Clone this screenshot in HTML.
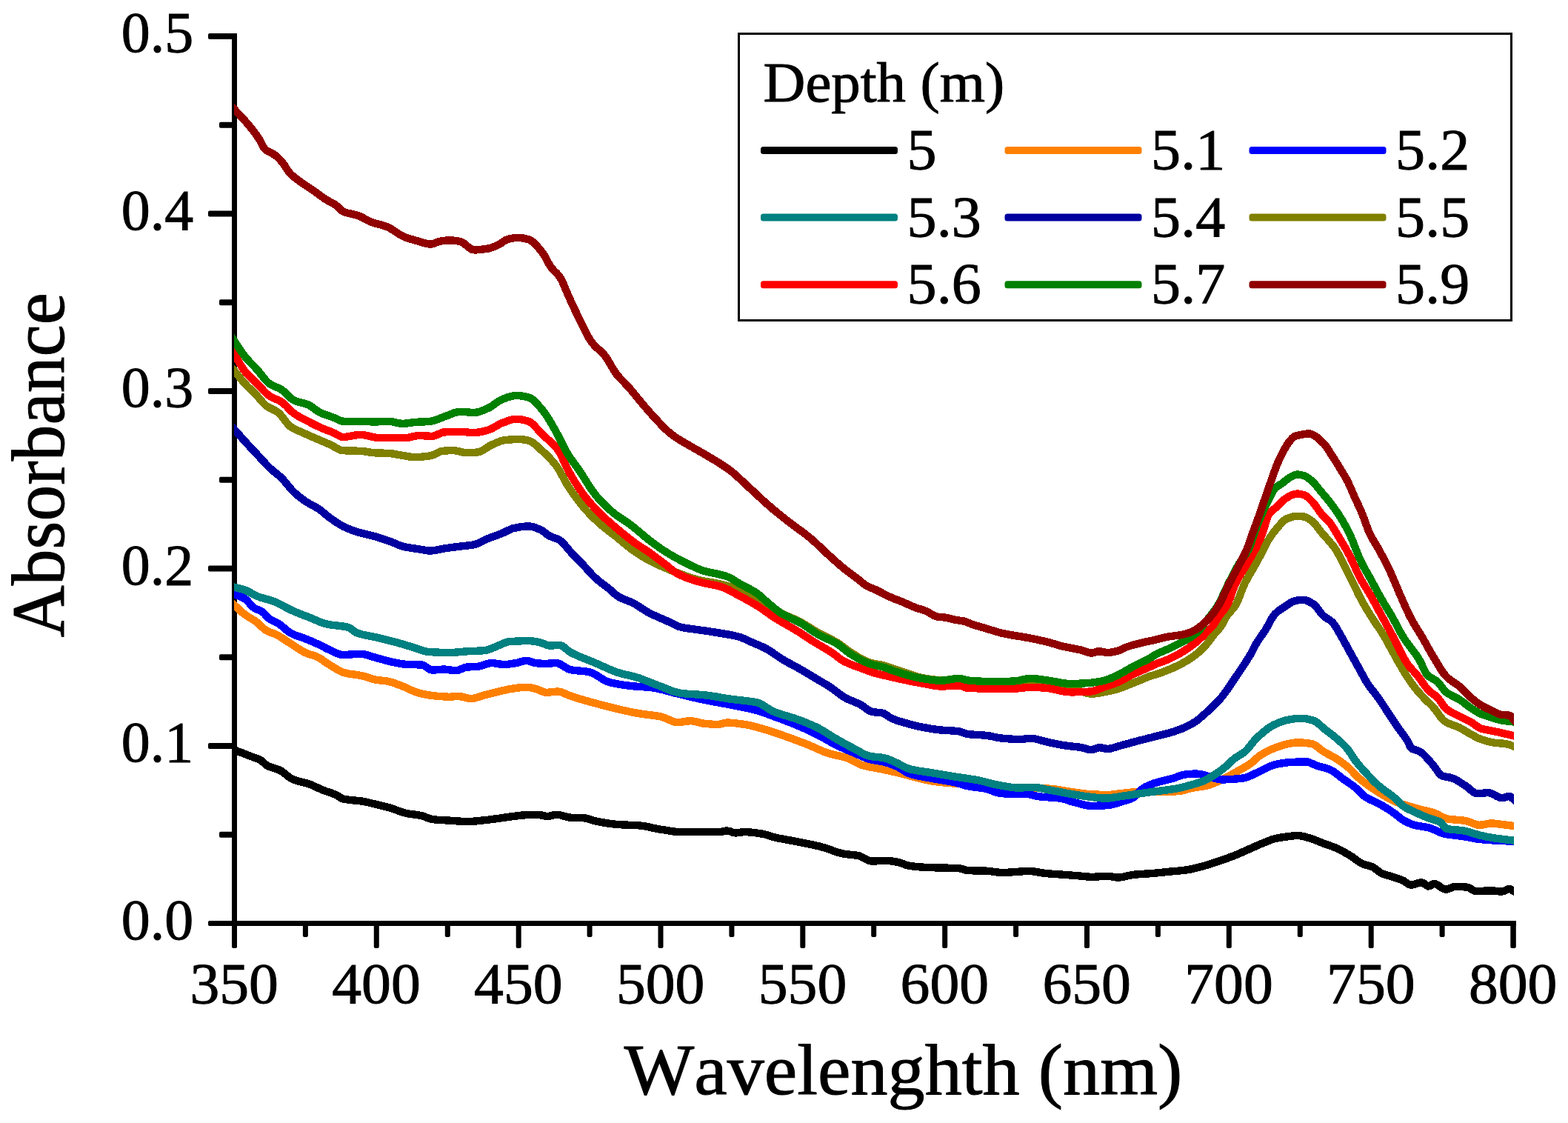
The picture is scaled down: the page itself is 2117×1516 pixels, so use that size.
<!DOCTYPE html>
<html lang="en"><head><meta charset="utf-8"><title>Absorbance vs Wavelength</title>
<style>html,body{margin:0;padding:0;background:#fff}svg{display:block}text{font-family:"Liberation Serif", "DejaVu Serif", serif;fill:#000;stroke:#000;stroke-width:1;font-kerning:none}</style>
</head><body>
<svg width="2117" height="1516" viewBox="0 0 2117 1516">
<rect width="2117" height="1516" fill="#fff"/>
<defs><clipPath id="plot"><rect x="316" y="40" width="1728" height="1215"/></clipPath></defs>
<g fill="#000" shape-rendering="crispEdges">
<rect x="313" y="45" width="7" height="1234"/>
<rect x="282" y="1243" width="1764.5" height="7"/>
</g>
<g fill="#000">
<rect x="281" y="1243" width="34" height="7" rx="2"/>
<rect x="296" y="1122.8" width="20" height="8" rx="2"/>
<rect x="281" y="1003.0" width="35" height="8" rx="2"/>
<rect x="296" y="883.2" width="20" height="8" rx="2"/>
<rect x="281" y="763.5" width="35" height="8" rx="2"/>
<rect x="296" y="643.8" width="20" height="8" rx="2"/>
<rect x="281" y="524.0" width="35" height="8" rx="2"/>
<rect x="296" y="404.2" width="20" height="8" rx="2"/>
<rect x="281" y="284.5" width="35" height="8" rx="2"/>
<rect x="296" y="164.8" width="20" height="8" rx="2"/>
<rect x="281" y="45.0" width="35" height="8" rx="2"/>
<rect x="313.0" y="1246" width="7" height="34" rx="2"/>
<rect x="408.9" y="1246" width="7" height="19" rx="2"/>
<rect x="504.8" y="1246" width="7" height="34" rx="2"/>
<rect x="600.8" y="1246" width="7" height="19" rx="2"/>
<rect x="696.7" y="1246" width="7" height="34" rx="2"/>
<rect x="792.6" y="1246" width="7" height="19" rx="2"/>
<rect x="888.5" y="1246" width="7" height="34" rx="2"/>
<rect x="984.4" y="1246" width="7" height="19" rx="2"/>
<rect x="1080.3" y="1246" width="7" height="34" rx="2"/>
<rect x="1176.2" y="1246" width="7" height="19" rx="2"/>
<rect x="1272.2" y="1246" width="7" height="34" rx="2"/>
<rect x="1368.1" y="1246" width="7" height="19" rx="2"/>
<rect x="1464.0" y="1246" width="7" height="34" rx="2"/>
<rect x="1559.9" y="1246" width="7" height="19" rx="2"/>
<rect x="1655.8" y="1246" width="7" height="34" rx="2"/>
<rect x="1751.8" y="1246" width="7" height="19" rx="2"/>
<rect x="1847.7" y="1246" width="7" height="34" rx="2"/>
<rect x="1943.6" y="1246" width="7" height="19" rx="2"/>
<rect x="2039.3" y="1243" width="7.5" height="37" rx="2"/>
</g>
<g clip-path="url(#plot)" fill="none" stroke-width="10.4" stroke-linejoin="round" stroke-linecap="butt" shape-rendering="crispEdges">
<path stroke="#000000" d="M308.1 1009.1 L311.1 1010.3 L314.1 1011.5 L317.1 1012.6 L320.1 1013.8 L323.1 1015.0 L326.1 1016.1 L329.1 1017.3 L332.1 1018.5 L335.1 1019.7 L338.1 1020.8 L341.1 1021.9 L344.1 1022.9 L347.1 1024.1 L350.1 1025.4 L353.1 1027.1 L356.1 1029.7 L359.1 1032.4 L362.1 1034.3 L365.1 1035.5 L368.1 1036.5 L371.1 1037.4 L374.1 1038.3 L377.1 1039.5 L380.1 1041.1 L383.1 1043.3 L386.1 1045.7 L389.1 1048.2 L392.1 1050.4 L395.1 1051.9 L398.1 1053.1 L401.1 1054.0 L404.1 1054.9 L407.1 1055.6 L410.1 1056.4 L413.1 1057.2 L416.1 1058.1 L419.1 1059.1 L422.1 1060.3 L425.1 1061.7 L428.1 1063.1 L431.1 1064.5 L434.1 1065.8 L437.1 1067.1 L440.1 1068.2 L443.1 1069.2 L446.1 1070.1 L449.1 1071.2 L452.1 1072.3 L455.1 1073.8 L458.1 1075.8 L461.1 1077.7 L464.1 1078.6 L467.1 1079.2 L470.1 1079.6 L473.1 1080.0 L476.1 1080.3 L479.1 1080.5 L482.1 1080.8 L485.1 1081.1 L488.1 1081.5 L491.1 1082.1 L494.1 1082.7 L497.1 1083.3 L500.1 1084.0 L503.1 1084.8 L506.1 1085.5 L509.1 1086.2 L512.1 1086.9 L515.1 1087.6 L518.1 1088.4 L521.1 1089.1 L524.1 1089.9 L527.1 1090.8 L530.1 1091.7 L533.1 1092.8 L536.1 1093.9 L539.1 1095.0 L542.1 1096.0 L545.1 1097.0 L548.1 1097.8 L551.1 1098.4 L554.1 1098.9 L557.1 1099.3 L560.1 1099.7 L563.1 1100.1 L566.1 1100.6 L569.1 1101.2 L572.1 1102.1 L575.1 1103.3 L578.1 1104.5 L581.1 1105.5 L584.1 1106.1 L587.1 1106.4 L590.1 1106.7 L593.1 1106.9 L596.1 1107.1 L599.1 1107.2 L602.1 1107.4 L605.1 1107.5 L608.1 1107.7 L611.1 1107.9 L614.1 1108.2 L617.1 1108.4 L620.1 1108.6 L623.1 1108.8 L626.1 1109.0 L629.1 1109.1 L632.1 1109.1 L635.1 1109.0 L638.1 1108.8 L641.1 1108.6 L644.1 1108.3 L647.1 1108.0 L650.1 1107.6 L653.1 1107.3 L656.1 1107.0 L659.1 1106.7 L662.1 1106.3 L665.1 1105.9 L668.1 1105.5 L671.1 1105.1 L674.1 1104.7 L677.1 1104.3 L680.1 1103.8 L683.1 1103.4 L686.1 1102.9 L689.1 1102.5 L692.1 1102.2 L695.1 1101.8 L698.1 1101.4 L701.1 1101.0 L704.1 1100.6 L707.1 1100.4 L710.1 1100.2 L713.1 1100.1 L716.1 1100.1 L719.1 1100.1 L722.1 1100.1 L725.1 1100.1 L728.1 1100.1 L731.1 1100.5 L734.1 1101.2 L737.1 1101.8 L740.1 1102.0 L743.1 1101.4 L746.1 1100.6 L749.1 1099.8 L752.1 1099.7 L755.1 1100.0 L758.1 1100.8 L761.1 1101.6 L764.1 1102.5 L767.1 1103.3 L770.1 1103.7 L773.1 1103.8 L776.1 1103.9 L779.1 1104.0 L782.1 1104.0 L785.1 1104.2 L788.1 1104.3 L791.1 1104.7 L794.1 1105.4 L797.1 1106.3 L800.1 1107.3 L803.1 1108.2 L806.1 1108.9 L809.1 1109.5 L812.1 1110.0 L815.1 1110.5 L818.1 1111.0 L821.1 1111.5 L824.1 1111.9 L827.1 1112.3 L830.1 1112.6 L833.1 1112.9 L836.1 1113.1 L839.1 1113.3 L842.1 1113.4 L845.1 1113.6 L848.1 1113.7 L851.1 1113.8 L854.1 1113.9 L857.1 1114.1 L860.1 1114.2 L863.1 1114.4 L866.1 1114.7 L869.1 1115.1 L872.1 1115.7 L875.1 1116.3 L878.1 1116.9 L881.1 1117.6 L884.1 1118.2 L887.1 1118.8 L890.1 1119.4 L893.1 1119.9 L896.1 1120.3 L899.1 1120.8 L902.1 1121.3 L905.1 1121.8 L908.1 1122.3 L911.1 1122.6 L914.1 1122.9 L917.1 1123.1 L920.1 1123.2 L923.1 1123.2 L926.1 1123.2 L929.1 1123.2 L932.1 1123.2 L935.1 1123.2 L938.1 1123.2 L941.1 1123.2 L944.1 1123.2 L947.1 1123.2 L950.1 1123.2 L953.1 1123.2 L956.1 1123.2 L959.1 1123.2 L962.1 1123.2 L965.1 1123.2 L968.1 1123.2 L971.1 1123.1 L974.1 1122.7 L977.1 1122.1 L980.1 1121.6 L983.1 1121.7 L986.1 1122.5 L989.1 1123.6 L992.1 1124.3 L995.1 1124.3 L998.1 1123.9 L1001.1 1123.5 L1004.1 1123.2 L1007.1 1123.2 L1010.1 1123.3 L1013.1 1123.5 L1016.1 1123.8 L1019.1 1124.2 L1022.1 1124.6 L1025.1 1125.0 L1028.1 1125.5 L1031.1 1126.0 L1034.1 1126.8 L1037.1 1127.8 L1040.1 1128.8 L1043.1 1129.7 L1046.1 1130.5 L1049.1 1131.1 L1052.1 1131.8 L1055.1 1132.3 L1058.1 1132.9 L1061.1 1133.4 L1064.1 1134.0 L1067.1 1134.5 L1070.1 1135.1 L1073.1 1135.6 L1076.1 1136.2 L1079.1 1136.8 L1082.1 1137.4 L1085.1 1138.0 L1088.1 1138.6 L1091.1 1139.2 L1094.1 1139.8 L1097.1 1140.5 L1100.1 1141.1 L1103.1 1141.8 L1106.1 1142.5 L1109.1 1143.3 L1112.1 1144.1 L1115.1 1145.1 L1118.1 1146.1 L1121.1 1147.1 L1124.1 1148.2 L1127.1 1149.3 L1130.1 1150.3 L1133.1 1151.2 L1136.1 1152.0 L1139.1 1152.6 L1142.1 1153.1 L1145.1 1153.4 L1148.1 1153.7 L1151.1 1154.0 L1154.1 1154.4 L1157.1 1154.8 L1160.1 1155.4 L1163.1 1156.6 L1166.1 1158.2 L1169.1 1159.9 L1172.1 1161.3 L1175.1 1162.3 L1178.1 1162.6 L1181.1 1162.5 L1184.1 1162.3 L1187.1 1162.1 L1190.1 1161.8 L1193.1 1161.7 L1196.1 1161.7 L1199.1 1161.9 L1202.1 1162.3 L1205.1 1162.7 L1208.1 1163.2 L1211.1 1163.7 L1214.1 1164.3 L1217.1 1165.2 L1220.1 1166.4 L1223.1 1167.6 L1226.1 1168.5 L1229.1 1169.1 L1232.1 1169.4 L1235.1 1169.7 L1238.1 1170.0 L1241.1 1170.3 L1244.1 1170.5 L1247.1 1170.7 L1250.1 1170.8 L1253.1 1171.0 L1256.1 1171.1 L1259.1 1171.2 L1262.1 1171.3 L1265.1 1171.4 L1268.1 1171.5 L1271.1 1171.5 L1274.1 1171.6 L1277.1 1171.6 L1280.1 1171.7 L1283.1 1171.7 L1286.1 1171.8 L1289.1 1171.8 L1292.1 1171.9 L1295.1 1172.1 L1298.1 1172.8 L1301.1 1173.8 L1304.1 1174.8 L1307.1 1175.1 L1310.1 1175.2 L1313.1 1175.3 L1316.1 1175.3 L1319.1 1175.4 L1322.1 1175.4 L1325.1 1175.5 L1328.1 1175.5 L1331.1 1175.6 L1334.1 1175.9 L1337.1 1176.2 L1340.1 1176.6 L1343.1 1177.0 L1346.1 1177.4 L1349.1 1177.7 L1352.1 1177.9 L1355.1 1177.9 L1358.1 1177.9 L1361.1 1177.7 L1364.1 1177.5 L1367.1 1177.3 L1370.1 1177.1 L1373.1 1176.9 L1376.1 1176.6 L1379.1 1176.4 L1382.1 1176.2 L1385.1 1176.1 L1388.1 1176.1 L1391.1 1176.1 L1394.1 1176.3 L1397.1 1176.7 L1400.1 1177.2 L1403.1 1177.7 L1406.1 1178.2 L1409.1 1178.7 L1412.1 1179.1 L1415.1 1179.3 L1418.1 1179.6 L1421.1 1179.8 L1424.1 1180.0 L1427.1 1180.2 L1430.1 1180.4 L1433.1 1180.6 L1436.1 1180.8 L1439.1 1181.0 L1442.1 1181.2 L1445.1 1181.5 L1448.1 1181.7 L1451.1 1181.9 L1454.1 1182.2 L1457.1 1182.4 L1460.1 1182.7 L1463.1 1183.0 L1466.1 1183.3 L1469.1 1183.6 L1472.1 1183.8 L1475.1 1183.8 L1478.1 1183.7 L1481.1 1183.5 L1484.1 1183.3 L1487.1 1183.1 L1490.1 1182.8 L1493.1 1182.7 L1496.1 1182.7 L1499.1 1183.0 L1502.1 1183.6 L1505.1 1184.1 L1508.1 1184.5 L1511.1 1184.5 L1514.1 1184.2 L1517.1 1183.6 L1520.1 1182.9 L1523.1 1182.2 L1526.1 1181.5 L1529.1 1181.0 L1532.1 1180.6 L1535.1 1180.4 L1538.1 1180.2 L1541.1 1180.0 L1544.1 1179.8 L1547.1 1179.6 L1550.1 1179.4 L1553.1 1179.2 L1556.1 1179.0 L1559.1 1178.7 L1562.1 1178.4 L1565.1 1178.1 L1568.1 1177.8 L1571.1 1177.5 L1574.1 1177.2 L1577.1 1176.8 L1580.1 1176.5 L1583.1 1176.3 L1586.1 1176.0 L1589.1 1175.8 L1592.1 1175.5 L1595.1 1175.2 L1598.1 1174.8 L1601.1 1174.5 L1604.1 1174.0 L1607.1 1173.5 L1610.1 1172.8 L1613.1 1172.1 L1616.1 1171.4 L1619.1 1170.6 L1622.1 1169.8 L1625.1 1169.0 L1628.1 1168.2 L1631.1 1167.3 L1634.1 1166.3 L1637.1 1165.4 L1640.1 1164.4 L1643.1 1163.3 L1646.1 1162.3 L1649.1 1161.3 L1652.1 1160.3 L1655.1 1159.2 L1658.1 1158.2 L1661.1 1157.1 L1664.1 1155.9 L1667.1 1154.7 L1670.1 1153.5 L1673.1 1152.2 L1676.1 1150.9 L1679.1 1149.6 L1682.1 1148.3 L1685.1 1146.9 L1688.1 1145.6 L1691.1 1144.3 L1694.1 1142.9 L1697.1 1141.6 L1700.1 1140.3 L1703.1 1139.0 L1706.1 1137.7 L1709.1 1136.5 L1712.1 1135.3 L1715.1 1134.1 L1718.1 1133.0 L1721.1 1132.2 L1724.1 1131.6 L1727.1 1131.0 L1730.1 1130.5 L1733.1 1130.1 L1736.1 1129.6 L1739.1 1129.3 L1742.1 1128.9 L1745.1 1128.5 L1748.1 1128.2 L1751.1 1128.0 L1754.1 1128.1 L1757.1 1128.6 L1760.1 1129.2 L1763.1 1130.1 L1766.1 1130.9 L1769.1 1131.8 L1772.1 1132.7 L1775.1 1133.8 L1778.1 1135.0 L1781.1 1136.2 L1784.1 1137.5 L1787.1 1138.6 L1790.1 1139.7 L1793.1 1140.8 L1796.1 1141.8 L1799.1 1142.9 L1802.1 1144.1 L1805.1 1145.3 L1808.1 1146.7 L1811.1 1148.2 L1814.1 1149.9 L1817.1 1151.6 L1820.1 1153.4 L1823.1 1155.2 L1826.1 1157.1 L1829.1 1159.2 L1832.1 1161.5 L1835.1 1163.6 L1838.1 1165.3 L1841.1 1166.6 L1844.1 1167.6 L1847.1 1168.4 L1850.1 1169.3 L1853.1 1170.4 L1856.1 1172.2 L1859.1 1174.6 L1862.1 1177.0 L1865.1 1178.8 L1868.1 1180.0 L1871.1 1181.0 L1874.1 1181.9 L1877.1 1182.8 L1880.1 1183.8 L1883.1 1184.7 L1886.1 1185.7 L1889.1 1186.6 L1892.1 1187.7 L1895.1 1189.1 L1898.1 1191.2 L1901.1 1193.2 L1904.1 1194.5 L1907.1 1194.4 L1910.1 1193.7 L1913.1 1192.7 L1916.1 1191.7 L1919.1 1191.3 L1922.1 1192.4 L1925.1 1194.7 L1928.1 1196.4 L1931.1 1195.6 L1934.1 1193.5 L1937.1 1193.1 L1940.1 1194.2 L1943.1 1196.1 L1946.1 1198.2 L1949.1 1199.9 L1952.1 1200.7 L1955.1 1200.2 L1958.1 1199.0 L1961.1 1197.6 L1964.1 1197.0 L1967.1 1197.0 L1970.1 1197.1 L1973.1 1197.2 L1976.1 1197.3 L1979.1 1197.5 L1982.1 1197.9 L1985.1 1199.5 L1988.1 1201.4 L1991.1 1202.9 L1994.1 1203.1 L1997.1 1203.0 L2000.1 1202.9 L2003.1 1202.7 L2006.1 1202.6 L2009.1 1202.5 L2012.1 1202.4 L2015.1 1202.4 L2018.1 1202.6 L2021.1 1203.0 L2024.1 1203.4 L2027.1 1203.6 L2030.1 1203.1 L2033.1 1201.6 L2036.1 1200.2 L2039.1 1200.4 L2042.1 1202.0 L2045.1 1203.6 L2048.1 1205.0 L2051.1 1206.4"/>
<path stroke="#FF8000" d="M308.1 809.6 L311.1 812.2 L314.1 814.9 L317.1 817.6 L320.1 820.3 L323.1 823.1 L326.1 825.9 L329.1 828.4 L332.1 830.7 L335.1 832.6 L338.1 834.4 L341.1 836.2 L344.1 838.1 L347.1 840.2 L350.1 842.8 L353.1 845.8 L356.1 848.7 L359.1 850.9 L362.1 852.4 L365.1 853.6 L368.1 854.7 L371.1 855.9 L374.1 857.3 L377.1 858.9 L380.1 860.8 L383.1 862.7 L386.1 864.7 L389.1 866.7 L392.1 868.6 L395.1 870.5 L398.1 872.5 L401.1 874.5 L404.1 876.5 L407.1 878.4 L410.1 880.1 L413.1 881.5 L416.1 882.6 L419.1 883.6 L422.1 884.4 L425.1 885.4 L428.1 886.6 L431.1 888.2 L434.1 890.1 L437.1 892.3 L440.1 894.4 L443.1 896.4 L446.1 898.2 L449.1 900.0 L452.1 901.9 L455.1 903.7 L458.1 905.4 L461.1 906.8 L464.1 908.0 L467.1 908.7 L470.1 909.4 L473.1 909.9 L476.1 910.3 L479.1 910.7 L482.1 911.1 L485.1 911.6 L488.1 912.2 L491.1 912.9 L494.1 913.7 L497.1 914.7 L500.1 915.7 L503.1 916.7 L506.1 917.4 L509.1 918.0 L512.1 918.3 L515.1 918.6 L518.1 918.9 L521.1 919.3 L524.1 919.8 L527.1 920.6 L530.1 921.5 L533.1 922.5 L536.1 923.6 L539.1 924.7 L542.1 925.8 L545.1 927.0 L548.1 928.3 L551.1 929.8 L554.1 931.2 L557.1 932.5 L560.1 933.8 L563.1 934.8 L566.1 935.7 L569.1 936.4 L572.1 937.1 L575.1 937.7 L578.1 938.3 L581.1 938.7 L584.1 939.1 L587.1 939.4 L590.1 939.7 L593.1 940.0 L596.1 940.2 L599.1 940.4 L602.1 940.6 L605.1 940.7 L608.1 940.7 L611.1 940.5 L614.1 940.2 L617.1 940.0 L620.1 940.0 L623.1 940.5 L626.1 941.2 L629.1 942.0 L632.1 942.7 L635.1 943.0 L638.1 942.9 L641.1 942.3 L644.1 941.5 L647.1 940.5 L650.1 939.6 L653.1 938.6 L656.1 937.9 L659.1 937.1 L662.1 936.3 L665.1 935.6 L668.1 934.8 L671.1 934.1 L674.1 933.4 L677.1 932.7 L680.1 932.0 L683.1 931.3 L686.1 930.6 L689.1 930.0 L692.1 929.6 L695.1 929.2 L698.1 928.7 L701.1 928.4 L704.1 928.0 L707.1 927.8 L710.1 927.7 L713.1 927.8 L716.1 928.2 L719.1 928.9 L722.1 929.7 L725.1 930.5 L728.1 931.6 L731.1 933.0 L734.1 934.3 L737.1 934.8 L740.1 934.7 L743.1 934.4 L746.1 934.1 L749.1 933.8 L752.1 933.6 L755.1 933.7 L758.1 934.4 L761.1 935.6 L764.1 937.0 L767.1 938.4 L770.1 939.5 L773.1 940.5 L776.1 941.4 L779.1 942.4 L782.1 943.3 L785.1 944.2 L788.1 945.1 L791.1 945.9 L794.1 946.8 L797.1 947.6 L800.1 948.4 L803.1 949.2 L806.1 950.0 L809.1 950.8 L812.1 951.6 L815.1 952.4 L818.1 953.1 L821.1 953.9 L824.1 954.7 L827.1 955.4 L830.1 956.2 L833.1 956.9 L836.1 957.6 L839.1 958.3 L842.1 959.0 L845.1 959.7 L848.1 960.3 L851.1 961.0 L854.1 961.6 L857.1 962.2 L860.1 962.7 L863.1 963.2 L866.1 963.7 L869.1 964.2 L872.1 964.5 L875.1 964.9 L878.1 965.3 L881.1 965.6 L884.1 966.0 L887.1 966.5 L890.1 967.0 L893.1 967.6 L896.1 968.6 L899.1 969.8 L902.1 971.1 L905.1 972.5 L908.1 973.7 L911.1 974.6 L914.1 975.1 L917.1 975.0 L920.1 974.7 L923.1 974.3 L926.1 973.8 L929.1 973.4 L932.1 973.2 L935.1 973.4 L938.1 974.0 L941.1 974.7 L944.1 975.5 L947.1 976.2 L950.1 976.7 L953.1 977.0 L956.1 977.2 L959.1 977.5 L962.1 977.7 L965.1 977.8 L968.1 977.9 L971.1 977.8 L974.1 977.2 L977.1 976.3 L980.1 975.7 L983.1 975.6 L986.1 975.7 L989.1 975.9 L992.1 976.2 L995.1 976.6 L998.1 976.9 L1001.1 977.4 L1004.1 977.8 L1007.1 978.2 L1010.1 978.8 L1013.1 979.4 L1016.1 980.1 L1019.1 980.9 L1022.1 981.7 L1025.1 982.6 L1028.1 983.5 L1031.1 984.3 L1034.1 985.2 L1037.1 986.1 L1040.1 987.0 L1043.1 988.0 L1046.1 989.0 L1049.1 990.0 L1052.1 991.1 L1055.1 992.1 L1058.1 993.2 L1061.1 994.2 L1064.1 995.3 L1067.1 996.4 L1070.1 997.5 L1073.1 998.6 L1076.1 999.7 L1079.1 1000.8 L1082.1 1002.0 L1085.1 1003.1 L1088.1 1004.3 L1091.1 1005.5 L1094.1 1006.7 L1097.1 1008.1 L1100.1 1009.4 L1103.1 1010.8 L1106.1 1012.1 L1109.1 1013.4 L1112.1 1014.6 L1115.1 1015.8 L1118.1 1016.8 L1121.1 1017.7 L1124.1 1018.4 L1127.1 1019.1 L1130.1 1019.8 L1133.1 1020.4 L1136.1 1021.1 L1139.1 1021.9 L1142.1 1022.8 L1145.1 1023.9 L1148.1 1025.3 L1151.1 1026.8 L1154.1 1028.4 L1157.1 1029.9 L1160.1 1031.3 L1163.1 1032.6 L1166.1 1033.5 L1169.1 1034.3 L1172.1 1035.0 L1175.1 1035.6 L1178.1 1036.1 L1181.1 1036.6 L1184.1 1037.2 L1187.1 1037.7 L1190.1 1038.3 L1193.1 1039.0 L1196.1 1039.6 L1199.1 1040.3 L1202.1 1041.0 L1205.1 1041.6 L1208.1 1042.3 L1211.1 1043.0 L1214.1 1043.7 L1217.1 1044.4 L1220.1 1045.2 L1223.1 1046.0 L1226.1 1046.8 L1229.1 1047.6 L1232.1 1048.4 L1235.1 1049.2 L1238.1 1050.0 L1241.1 1050.7 L1244.1 1051.5 L1247.1 1052.2 L1250.1 1052.8 L1253.1 1053.5 L1256.1 1054.0 L1259.1 1054.5 L1262.1 1055.0 L1265.1 1055.4 L1268.1 1055.7 L1271.1 1056.1 L1274.1 1056.4 L1277.1 1056.6 L1280.1 1056.9 L1283.1 1057.1 L1286.1 1057.4 L1289.1 1057.6 L1292.1 1057.9 L1295.1 1058.1 L1298.1 1058.4 L1301.1 1058.6 L1304.1 1058.9 L1307.1 1059.1 L1310.1 1059.3 L1313.1 1059.6 L1316.1 1059.8 L1319.1 1060.0 L1322.1 1060.3 L1325.1 1060.5 L1328.1 1060.7 L1331.1 1060.9 L1334.1 1061.2 L1337.1 1061.4 L1340.1 1061.6 L1343.1 1061.8 L1346.1 1062.0 L1349.1 1062.2 L1352.1 1062.4 L1355.1 1062.6 L1358.1 1062.8 L1361.1 1063.0 L1364.1 1063.1 L1367.1 1063.3 L1370.1 1063.4 L1373.1 1063.5 L1376.1 1063.5 L1379.1 1063.5 L1382.1 1063.5 L1385.1 1063.5 L1388.1 1063.5 L1391.1 1063.5 L1394.1 1063.5 L1397.1 1063.5 L1400.1 1063.6 L1403.1 1063.7 L1406.1 1063.9 L1409.1 1064.1 L1412.1 1064.3 L1415.1 1064.6 L1418.1 1064.8 L1421.1 1065.1 L1424.1 1065.4 L1427.1 1065.7 L1430.1 1066.2 L1433.1 1066.8 L1436.1 1067.3 L1439.1 1067.9 L1442.1 1068.4 L1445.1 1068.8 L1448.1 1069.3 L1451.1 1069.7 L1454.1 1070.1 L1457.1 1070.5 L1460.1 1070.9 L1463.1 1071.3 L1466.1 1071.6 L1469.1 1071.9 L1472.1 1072.1 L1475.1 1072.3 L1478.1 1072.4 L1481.1 1072.6 L1484.1 1072.7 L1487.1 1072.8 L1490.1 1072.9 L1493.1 1072.9 L1496.1 1072.9 L1499.1 1072.8 L1502.1 1072.5 L1505.1 1072.1 L1508.1 1071.7 L1511.1 1071.4 L1514.1 1071.0 L1517.1 1070.7 L1520.1 1070.3 L1523.1 1070.0 L1526.1 1069.7 L1529.1 1069.5 L1532.1 1069.4 L1535.1 1069.3 L1538.1 1069.2 L1541.1 1069.2 L1544.1 1069.2 L1547.1 1069.1 L1550.1 1069.1 L1553.1 1069.1 L1556.1 1069.0 L1559.1 1069.0 L1562.1 1068.9 L1565.1 1068.9 L1568.1 1068.8 L1571.1 1068.8 L1574.1 1068.7 L1577.1 1068.6 L1580.1 1068.6 L1583.1 1068.5 L1586.1 1068.4 L1589.1 1068.2 L1592.1 1068.0 L1595.1 1067.5 L1598.1 1066.8 L1601.1 1066.0 L1604.1 1065.2 L1607.1 1064.4 L1610.1 1063.7 L1613.1 1063.1 L1616.1 1062.7 L1619.1 1062.2 L1622.1 1061.8 L1625.1 1061.4 L1628.1 1060.8 L1631.1 1060.1 L1634.1 1059.2 L1637.1 1058.1 L1640.1 1056.8 L1643.1 1055.5 L1646.1 1054.1 L1649.1 1052.7 L1652.1 1051.3 L1655.1 1049.8 L1658.1 1048.2 L1661.1 1046.6 L1664.1 1044.9 L1667.1 1043.2 L1670.1 1041.5 L1673.1 1039.8 L1676.1 1038.1 L1679.1 1036.5 L1682.1 1034.8 L1685.1 1033.0 L1688.1 1031.0 L1691.1 1028.7 L1694.1 1026.0 L1697.1 1023.2 L1700.1 1020.7 L1703.1 1018.7 L1706.1 1016.9 L1709.1 1015.3 L1712.1 1013.8 L1715.1 1012.3 L1718.1 1011.0 L1721.1 1009.8 L1724.1 1008.7 L1727.1 1007.6 L1730.1 1006.6 L1733.1 1005.6 L1736.1 1004.8 L1739.1 1004.1 L1742.1 1003.6 L1745.1 1003.0 L1748.1 1002.6 L1751.1 1002.3 L1754.1 1002.4 L1757.1 1002.5 L1760.1 1002.7 L1763.1 1003.0 L1766.1 1003.4 L1769.1 1003.8 L1772.1 1004.4 L1775.1 1005.8 L1778.1 1007.8 L1781.1 1010.2 L1784.1 1012.6 L1787.1 1014.6 L1790.1 1016.4 L1793.1 1018.0 L1796.1 1019.6 L1799.1 1021.2 L1802.1 1022.9 L1805.1 1024.7 L1808.1 1026.7 L1811.1 1028.7 L1814.1 1031.0 L1817.1 1033.3 L1820.1 1035.8 L1823.1 1038.6 L1826.1 1041.7 L1829.1 1044.9 L1832.1 1048.0 L1835.1 1050.7 L1838.1 1053.2 L1841.1 1055.6 L1844.1 1057.8 L1847.1 1060.0 L1850.1 1062.1 L1853.1 1064.1 L1856.1 1066.2 L1859.1 1068.1 L1862.1 1070.1 L1865.1 1071.9 L1868.1 1073.7 L1871.1 1075.5 L1874.1 1077.1 L1877.1 1078.7 L1880.1 1080.3 L1883.1 1081.7 L1886.1 1083.0 L1889.1 1084.2 L1892.1 1085.2 L1895.1 1086.2 L1898.1 1087.1 L1901.1 1088.0 L1904.1 1088.9 L1907.1 1089.8 L1910.1 1090.7 L1913.1 1091.5 L1916.1 1092.3 L1919.1 1093.1 L1922.1 1093.8 L1925.1 1094.5 L1928.1 1095.2 L1931.1 1095.9 L1934.1 1096.7 L1937.1 1097.7 L1940.1 1099.0 L1943.1 1100.6 L1946.1 1102.2 L1949.1 1103.7 L1952.1 1104.9 L1955.1 1105.6 L1958.1 1106.0 L1961.1 1106.3 L1964.1 1106.6 L1967.1 1106.8 L1970.1 1107.0 L1973.1 1107.3 L1976.1 1107.6 L1979.1 1108.0 L1982.1 1108.9 L1985.1 1110.0 L1988.1 1111.3 L1991.1 1112.5 L1994.1 1113.4 L1997.1 1113.8 L2000.1 1113.6 L2003.1 1113.2 L2006.1 1112.5 L2009.1 1111.9 L2012.1 1111.5 L2015.1 1111.5 L2018.1 1111.7 L2021.1 1112.0 L2024.1 1112.5 L2027.1 1112.9 L2030.1 1113.3 L2033.1 1113.7 L2036.1 1114.0 L2039.1 1114.4 L2042.1 1114.8 L2045.1 1115.1 L2048.1 1115.5 L2051.1 1115.9"/>
<path stroke="#0000FF" d="M308.1 798.6 L311.1 799.9 L314.1 801.2 L317.1 802.5 L320.1 803.6 L323.1 804.8 L326.1 806.0 L329.1 807.5 L332.1 809.4 L335.1 812.4 L338.1 815.9 L341.1 819.1 L344.1 821.2 L347.1 822.6 L350.1 823.9 L353.1 825.3 L356.1 827.6 L359.1 830.9 L362.1 834.2 L365.1 836.4 L368.1 837.9 L371.1 839.2 L374.1 840.6 L377.1 842.5 L380.1 844.8 L383.1 847.4 L386.1 850.1 L389.1 852.5 L392.1 854.4 L395.1 855.9 L398.1 857.2 L401.1 858.3 L404.1 859.4 L407.1 860.4 L410.1 861.5 L413.1 862.6 L416.1 863.9 L419.1 865.1 L422.1 866.4 L425.1 867.7 L428.1 869.1 L431.1 870.4 L434.1 871.9 L437.1 873.4 L440.1 875.0 L443.1 876.5 L446.1 877.9 L449.1 879.3 L452.1 880.7 L455.1 882.1 L458.1 883.2 L461.1 883.9 L464.1 884.0 L467.1 883.9 L470.1 883.7 L473.1 883.5 L476.1 883.3 L479.1 883.1 L482.1 882.9 L485.1 882.8 L488.1 882.9 L491.1 883.2 L494.1 883.9 L497.1 884.7 L500.1 885.6 L503.1 886.6 L506.1 887.5 L509.1 888.3 L512.1 889.1 L515.1 890.0 L518.1 890.8 L521.1 891.7 L524.1 892.5 L527.1 893.2 L530.1 893.9 L533.1 894.5 L536.1 895.0 L539.1 895.6 L542.1 896.1 L545.1 896.5 L548.1 896.8 L551.1 897.0 L554.1 897.1 L557.1 897.2 L560.1 897.2 L563.1 897.3 L566.1 897.3 L569.1 897.4 L572.1 898.3 L575.1 900.2 L578.1 902.3 L581.1 904.0 L584.1 904.5 L587.1 904.4 L590.1 904.2 L593.1 904.0 L596.1 903.7 L599.1 903.6 L602.1 903.7 L605.1 904.0 L608.1 904.5 L611.1 904.9 L614.1 905.2 L617.1 905.1 L620.1 904.3 L623.1 903.0 L626.1 901.7 L629.1 900.8 L632.1 900.4 L635.1 900.3 L638.1 900.2 L641.1 900.0 L644.1 899.9 L647.1 899.5 L650.1 898.7 L653.1 897.7 L656.1 896.6 L659.1 895.7 L662.1 895.2 L665.1 895.1 L668.1 895.4 L671.1 895.9 L674.1 896.4 L677.1 896.8 L680.1 897.0 L683.1 896.9 L686.1 896.7 L689.1 896.3 L692.1 895.8 L695.1 895.4 L698.1 894.9 L701.1 894.1 L704.1 893.1 L707.1 892.3 L710.1 891.8 L713.1 892.0 L716.1 893.0 L719.1 894.2 L722.1 895.0 L725.1 895.3 L728.1 895.5 L731.1 895.7 L734.1 895.8 L737.1 895.8 L740.1 895.7 L743.1 895.5 L746.1 895.3 L749.1 895.1 L752.1 895.2 L755.1 896.0 L758.1 897.5 L761.1 899.5 L764.1 901.4 L767.1 903.1 L770.1 904.1 L773.1 904.6 L776.1 905.0 L779.1 905.3 L782.1 905.5 L785.1 905.8 L788.1 906.1 L791.1 906.4 L794.1 906.9 L797.1 907.6 L800.1 908.8 L803.1 910.3 L806.1 912.0 L809.1 913.9 L812.1 915.8 L815.1 917.6 L818.1 919.3 L821.1 920.5 L824.1 921.4 L827.1 922.1 L830.1 922.7 L833.1 923.3 L836.1 923.8 L839.1 924.3 L842.1 924.8 L845.1 925.2 L848.1 925.5 L851.1 925.9 L854.1 926.2 L857.1 926.5 L860.1 926.7 L863.1 926.9 L866.1 927.1 L869.1 927.3 L872.1 927.5 L875.1 927.8 L878.1 928.1 L881.1 928.4 L884.1 928.9 L887.1 929.5 L890.1 930.1 L893.1 930.8 L896.1 931.5 L899.1 932.3 L902.1 933.1 L905.1 934.0 L908.1 934.8 L911.1 935.6 L914.1 936.3 L917.1 937.0 L920.1 937.7 L923.1 938.4 L926.1 939.2 L929.1 939.9 L932.1 940.6 L935.1 941.3 L938.1 942.1 L941.1 942.7 L944.1 943.4 L947.1 944.1 L950.1 944.7 L953.1 945.3 L956.1 945.9 L959.1 946.5 L962.1 947.1 L965.1 947.6 L968.1 948.1 L971.1 948.7 L974.1 949.2 L977.1 949.8 L980.1 950.3 L983.1 950.9 L986.1 951.5 L989.1 952.1 L992.1 952.6 L995.1 953.2 L998.1 953.8 L1001.1 954.4 L1004.1 955.0 L1007.1 955.6 L1010.1 956.3 L1013.1 956.9 L1016.1 957.6 L1019.1 958.4 L1022.1 959.2 L1025.1 960.0 L1028.1 961.0 L1031.1 962.0 L1034.1 963.1 L1037.1 964.2 L1040.1 965.4 L1043.1 966.5 L1046.1 967.6 L1049.1 968.7 L1052.1 969.8 L1055.1 970.9 L1058.1 972.1 L1061.1 973.2 L1064.1 974.3 L1067.1 975.5 L1070.1 976.7 L1073.1 977.9 L1076.1 979.2 L1079.1 980.4 L1082.1 981.7 L1085.1 983.1 L1088.1 984.4 L1091.1 985.8 L1094.1 987.2 L1097.1 988.6 L1100.1 990.0 L1103.1 991.5 L1106.1 993.0 L1109.1 994.6 L1112.1 996.3 L1115.1 998.0 L1118.1 999.8 L1121.1 1001.5 L1124.1 1003.1 L1127.1 1004.7 L1130.1 1006.2 L1133.1 1007.6 L1136.1 1009.0 L1139.1 1010.3 L1142.1 1011.7 L1145.1 1013.0 L1148.1 1014.3 L1151.1 1015.5 L1154.1 1016.8 L1157.1 1018.2 L1160.1 1019.5 L1163.1 1020.8 L1166.1 1022.1 L1169.1 1023.3 L1172.1 1024.3 L1175.1 1025.2 L1178.1 1025.8 L1181.1 1026.4 L1184.1 1026.9 L1187.1 1027.4 L1190.1 1027.9 L1193.1 1028.5 L1196.1 1029.3 L1199.1 1030.2 L1202.1 1031.2 L1205.1 1032.3 L1208.1 1033.6 L1211.1 1034.9 L1214.1 1036.4 L1217.1 1038.3 L1220.1 1040.3 L1223.1 1042.1 L1226.1 1043.7 L1229.1 1044.8 L1232.1 1045.7 L1235.1 1046.5 L1238.1 1047.1 L1241.1 1047.8 L1244.1 1048.3 L1247.1 1048.9 L1250.1 1049.4 L1253.1 1049.9 L1256.1 1050.4 L1259.1 1051.0 L1262.1 1051.5 L1265.1 1052.1 L1268.1 1052.5 L1271.1 1053.0 L1274.1 1053.5 L1277.1 1054.0 L1280.1 1054.5 L1283.1 1055.1 L1286.1 1055.6 L1289.1 1056.3 L1292.1 1057.0 L1295.1 1057.9 L1298.1 1058.8 L1301.1 1059.8 L1304.1 1060.6 L1307.1 1061.3 L1310.1 1061.8 L1313.1 1062.3 L1316.1 1062.7 L1319.1 1063.0 L1322.1 1063.4 L1325.1 1063.9 L1328.1 1064.3 L1331.1 1064.9 L1334.1 1065.8 L1337.1 1066.8 L1340.1 1067.9 L1343.1 1069.0 L1346.1 1069.9 L1349.1 1070.7 L1352.1 1071.2 L1355.1 1071.3 L1358.1 1071.4 L1361.1 1071.4 L1364.1 1071.5 L1367.1 1071.5 L1370.1 1071.5 L1373.1 1071.6 L1376.1 1071.6 L1379.1 1071.6 L1382.1 1071.7 L1385.1 1071.8 L1388.1 1072.1 L1391.1 1072.7 L1394.1 1073.4 L1397.1 1074.2 L1400.1 1074.8 L1403.1 1075.3 L1406.1 1075.6 L1409.1 1075.9 L1412.1 1076.1 L1415.1 1076.3 L1418.1 1076.5 L1421.1 1076.7 L1424.1 1076.9 L1427.1 1077.2 L1430.1 1077.5 L1433.1 1077.9 L1436.1 1078.6 L1439.1 1079.5 L1442.1 1080.5 L1445.1 1081.6 L1448.1 1082.5 L1451.1 1083.3 L1454.1 1084.0 L1457.1 1084.8 L1460.1 1085.6 L1463.1 1086.4 L1466.1 1087.0 L1469.1 1087.5 L1472.1 1087.8 L1475.1 1087.8 L1478.1 1087.8 L1481.1 1087.7 L1484.1 1087.6 L1487.1 1087.5 L1490.1 1087.4 L1493.1 1087.2 L1496.1 1087.1 L1499.1 1086.6 L1502.1 1086.0 L1505.1 1085.2 L1508.1 1084.3 L1511.1 1083.3 L1514.1 1082.4 L1517.1 1081.5 L1520.1 1080.7 L1523.1 1079.7 L1526.1 1078.6 L1529.1 1077.3 L1532.1 1075.5 L1535.1 1072.5 L1538.1 1068.9 L1541.1 1065.8 L1544.1 1063.7 L1547.1 1062.0 L1550.1 1060.6 L1553.1 1059.3 L1556.1 1058.1 L1559.1 1057.1 L1562.1 1056.2 L1565.1 1055.3 L1568.1 1054.5 L1571.1 1053.8 L1574.1 1053.1 L1577.1 1052.4 L1580.1 1051.7 L1583.1 1050.9 L1586.1 1049.9 L1589.1 1048.8 L1592.1 1047.7 L1595.1 1046.7 L1598.1 1045.9 L1601.1 1045.4 L1604.1 1045.1 L1607.1 1044.9 L1610.1 1044.7 L1613.1 1044.6 L1616.1 1044.6 L1619.1 1044.9 L1622.1 1045.4 L1625.1 1046.2 L1628.1 1047.0 L1631.1 1047.9 L1634.1 1048.6 L1637.1 1049.6 L1640.1 1050.6 L1643.1 1051.5 L1646.1 1052.2 L1649.1 1052.4 L1652.1 1052.4 L1655.1 1052.3 L1658.1 1052.2 L1661.1 1052.0 L1664.1 1051.9 L1667.1 1051.6 L1670.1 1051.4 L1673.1 1051.1 L1676.1 1050.8 L1679.1 1050.4 L1682.1 1049.8 L1685.1 1048.7 L1688.1 1047.4 L1691.1 1045.9 L1694.1 1044.4 L1697.1 1043.1 L1700.1 1041.7 L1703.1 1040.2 L1706.1 1038.7 L1709.1 1037.1 L1712.1 1035.6 L1715.1 1034.3 L1718.1 1033.2 L1721.1 1032.3 L1724.1 1031.6 L1727.1 1031.0 L1730.1 1030.5 L1733.1 1030.0 L1736.1 1029.6 L1739.1 1029.3 L1742.1 1029.1 L1745.1 1028.9 L1748.1 1028.8 L1751.1 1028.6 L1754.1 1028.5 L1757.1 1028.4 L1760.1 1028.3 L1763.1 1028.3 L1766.1 1028.7 L1769.1 1029.7 L1772.1 1031.1 L1775.1 1032.5 L1778.1 1033.7 L1781.1 1034.6 L1784.1 1035.4 L1787.1 1036.2 L1790.1 1037.1 L1793.1 1038.1 L1796.1 1039.2 L1799.1 1040.7 L1802.1 1042.7 L1805.1 1045.0 L1808.1 1047.4 L1811.1 1049.8 L1814.1 1052.0 L1817.1 1054.0 L1820.1 1056.1 L1823.1 1058.2 L1826.1 1060.3 L1829.1 1062.6 L1832.1 1065.2 L1835.1 1068.2 L1838.1 1071.2 L1841.1 1074.0 L1844.1 1076.2 L1847.1 1078.0 L1850.1 1079.6 L1853.1 1080.9 L1856.1 1082.3 L1859.1 1083.6 L1862.1 1085.2 L1865.1 1086.9 L1868.1 1088.6 L1871.1 1090.4 L1874.1 1092.3 L1877.1 1094.3 L1880.1 1096.3 L1883.1 1098.4 L1886.1 1100.8 L1889.1 1103.2 L1892.1 1105.6 L1895.1 1107.6 L1898.1 1109.1 L1901.1 1110.6 L1904.1 1111.9 L1907.1 1113.0 L1910.1 1113.9 L1913.1 1114.6 L1916.1 1115.1 L1919.1 1115.6 L1922.1 1116.0 L1925.1 1116.6 L1928.1 1117.2 L1931.1 1118.0 L1934.1 1119.2 L1937.1 1120.5 L1940.1 1121.9 L1943.1 1123.3 L1946.1 1124.5 L1949.1 1125.4 L1952.1 1126.0 L1955.1 1126.5 L1958.1 1127.0 L1961.1 1127.3 L1964.1 1127.7 L1967.1 1128.0 L1970.1 1128.4 L1973.1 1128.8 L1976.1 1129.2 L1979.1 1129.7 L1982.1 1130.2 L1985.1 1130.8 L1988.1 1131.4 L1991.1 1132.0 L1994.1 1132.5 L1997.1 1132.9 L2000.1 1133.2 L2003.1 1133.5 L2006.1 1133.8 L2009.1 1134.0 L2012.1 1134.2 L2015.1 1134.4 L2018.1 1134.6 L2021.1 1134.8 L2024.1 1134.9 L2027.1 1135.0 L2030.1 1135.2 L2033.1 1135.3 L2036.1 1135.3 L2039.1 1135.4 L2042.1 1135.5 L2045.1 1135.6 L2048.1 1135.7 L2051.1 1135.8"/>
<path stroke="#008080" d="M308.1 790.4 L311.1 791.2 L314.1 792.0 L317.1 792.9 L320.1 793.6 L323.1 794.4 L326.1 795.2 L329.1 796.1 L332.1 797.1 L335.1 798.5 L338.1 800.1 L341.1 801.8 L344.1 803.4 L347.1 804.8 L350.1 805.9 L353.1 806.9 L356.1 807.8 L359.1 808.7 L362.1 809.5 L365.1 810.4 L368.1 811.4 L371.1 812.5 L374.1 813.8 L377.1 815.2 L380.1 816.8 L383.1 818.4 L386.1 820.0 L389.1 821.6 L392.1 823.1 L395.1 824.5 L398.1 825.8 L401.1 827.0 L404.1 828.3 L407.1 829.4 L410.1 830.6 L413.1 831.7 L416.1 832.9 L419.1 834.1 L422.1 835.3 L425.1 836.6 L428.1 837.9 L431.1 839.2 L434.1 840.3 L437.1 841.4 L440.1 842.3 L443.1 842.9 L446.1 843.5 L449.1 843.9 L452.1 844.2 L455.1 844.5 L458.1 844.9 L461.1 845.2 L464.1 845.7 L467.1 846.2 L470.1 846.9 L473.1 848.4 L476.1 850.6 L479.1 853.0 L482.1 854.5 L485.1 855.5 L488.1 856.3 L491.1 857.0 L494.1 857.7 L497.1 858.2 L500.1 858.8 L503.1 859.4 L506.1 860.0 L509.1 860.7 L512.1 861.4 L515.1 862.1 L518.1 862.8 L521.1 863.6 L524.1 864.3 L527.1 865.1 L530.1 865.8 L533.1 866.6 L536.1 867.4 L539.1 868.3 L542.1 869.1 L545.1 870.0 L548.1 871.0 L551.1 871.9 L554.1 872.8 L557.1 873.7 L560.1 874.6 L563.1 875.6 L566.1 876.7 L569.1 877.7 L572.1 878.7 L575.1 879.5 L578.1 879.9 L581.1 880.1 L584.1 880.3 L587.1 880.4 L590.1 880.6 L593.1 880.7 L596.1 880.8 L599.1 880.8 L602.1 880.9 L605.1 880.9 L608.1 880.9 L611.1 880.8 L614.1 880.7 L617.1 880.4 L620.1 880.2 L623.1 879.9 L626.1 879.6 L629.1 879.4 L632.1 879.2 L635.1 879.1 L638.1 878.9 L641.1 878.8 L644.1 878.7 L647.1 878.6 L650.1 878.4 L653.1 878.2 L656.1 877.8 L659.1 877.0 L662.1 875.9 L665.1 874.7 L668.1 873.5 L671.1 872.3 L674.1 871.0 L677.1 869.6 L680.1 868.3 L683.1 867.2 L686.1 866.4 L689.1 866.1 L692.1 865.9 L695.1 865.7 L698.1 865.5 L701.1 865.4 L704.1 865.3 L707.1 865.2 L710.1 865.1 L713.1 865.1 L716.1 865.2 L719.1 865.5 L722.1 865.9 L725.1 866.5 L728.1 867.1 L731.1 867.8 L734.1 869.0 L737.1 870.3 L740.1 871.3 L743.1 871.5 L746.1 871.4 L749.1 871.2 L752.1 871.1 L755.1 871.0 L758.1 871.5 L761.1 873.3 L764.1 875.8 L767.1 878.4 L770.1 880.5 L773.1 882.0 L776.1 883.5 L779.1 884.9 L782.1 886.2 L785.1 887.5 L788.1 888.7 L791.1 889.9 L794.1 891.1 L797.1 892.3 L800.1 893.5 L803.1 894.7 L806.1 896.0 L809.1 897.3 L812.1 898.7 L815.1 900.1 L818.1 901.4 L821.1 902.8 L824.1 904.1 L827.1 905.3 L830.1 906.5 L833.1 907.6 L836.1 908.5 L839.1 909.4 L842.1 910.1 L845.1 910.8 L848.1 911.5 L851.1 912.2 L854.1 912.9 L857.1 913.7 L860.1 914.6 L863.1 915.5 L866.1 916.6 L869.1 917.8 L872.1 918.9 L875.1 920.1 L878.1 921.3 L881.1 922.5 L884.1 923.7 L887.1 924.8 L890.1 925.9 L893.1 927.1 L896.1 928.3 L899.1 929.5 L902.1 930.7 L905.1 931.9 L908.1 932.9 L911.1 933.9 L914.1 934.8 L917.1 935.4 L920.1 935.9 L923.1 936.2 L926.1 936.5 L929.1 936.8 L932.1 937.0 L935.1 937.1 L938.1 937.3 L941.1 937.5 L944.1 937.7 L947.1 937.9 L950.1 938.2 L953.1 938.5 L956.1 938.9 L959.1 939.3 L962.1 939.8 L965.1 940.2 L968.1 940.7 L971.1 941.2 L974.1 941.8 L977.1 942.3 L980.1 942.8 L983.1 943.2 L986.1 943.7 L989.1 944.1 L992.1 944.4 L995.1 944.8 L998.1 945.1 L1001.1 945.4 L1004.1 945.7 L1007.1 946.1 L1010.1 946.4 L1013.1 946.9 L1016.1 947.3 L1019.1 947.9 L1022.1 948.5 L1025.1 949.5 L1028.1 950.9 L1031.1 952.7 L1034.1 954.5 L1037.1 956.5 L1040.1 958.3 L1043.1 960.0 L1046.1 961.3 L1049.1 962.4 L1052.1 963.4 L1055.1 964.4 L1058.1 965.3 L1061.1 966.2 L1064.1 967.1 L1067.1 968.0 L1070.1 968.9 L1073.1 969.8 L1076.1 970.9 L1079.1 972.0 L1082.1 973.1 L1085.1 974.3 L1088.1 975.5 L1091.1 976.7 L1094.1 978.0 L1097.1 979.3 L1100.1 980.6 L1103.1 982.1 L1106.1 983.6 L1109.1 985.2 L1112.1 987.0 L1115.1 988.9 L1118.1 990.8 L1121.1 992.7 L1124.1 994.6 L1127.1 996.4 L1130.1 998.1 L1133.1 999.8 L1136.1 1001.5 L1139.1 1003.2 L1142.1 1004.8 L1145.1 1006.5 L1148.1 1008.0 L1151.1 1009.6 L1154.1 1011.2 L1157.1 1012.8 L1160.1 1014.5 L1163.1 1016.2 L1166.1 1017.7 L1169.1 1019.0 L1172.1 1020.1 L1175.1 1020.9 L1178.1 1021.4 L1181.1 1021.8 L1184.1 1022.1 L1187.1 1022.3 L1190.1 1022.7 L1193.1 1023.1 L1196.1 1023.8 L1199.1 1024.8 L1202.1 1026.0 L1205.1 1027.4 L1208.1 1028.8 L1211.1 1030.1 L1214.1 1031.6 L1217.1 1033.2 L1220.1 1034.8 L1223.1 1036.3 L1226.1 1037.5 L1229.1 1038.4 L1232.1 1039.1 L1235.1 1039.7 L1238.1 1040.3 L1241.1 1040.8 L1244.1 1041.2 L1247.1 1041.6 L1250.1 1042.1 L1253.1 1042.5 L1256.1 1042.9 L1259.1 1043.4 L1262.1 1043.9 L1265.1 1044.4 L1268.1 1045.0 L1271.1 1045.5 L1274.1 1046.0 L1277.1 1046.5 L1280.1 1047.0 L1283.1 1047.5 L1286.1 1048.0 L1289.1 1048.5 L1292.1 1049.0 L1295.1 1049.4 L1298.1 1049.8 L1301.1 1050.3 L1304.1 1050.7 L1307.1 1051.1 L1310.1 1051.6 L1313.1 1052.0 L1316.1 1052.5 L1319.1 1053.0 L1322.1 1053.7 L1325.1 1054.3 L1328.1 1055.0 L1331.1 1055.8 L1334.1 1056.6 L1337.1 1057.3 L1340.1 1058.1 L1343.1 1058.8 L1346.1 1059.5 L1349.1 1060.1 L1352.1 1060.6 L1355.1 1061.1 L1358.1 1061.6 L1361.1 1062.1 L1364.1 1062.6 L1367.1 1063.0 L1370.1 1063.3 L1373.1 1063.5 L1376.1 1063.5 L1379.1 1063.4 L1382.1 1063.3 L1385.1 1063.1 L1388.1 1062.9 L1391.1 1062.8 L1394.1 1062.8 L1397.1 1062.9 L1400.1 1063.3 L1403.1 1063.7 L1406.1 1064.3 L1409.1 1064.9 L1412.1 1065.6 L1415.1 1066.2 L1418.1 1066.7 L1421.1 1067.2 L1424.1 1067.8 L1427.1 1068.3 L1430.1 1068.9 L1433.1 1069.5 L1436.1 1070.1 L1439.1 1070.6 L1442.1 1071.2 L1445.1 1071.7 L1448.1 1072.2 L1451.1 1072.7 L1454.1 1073.2 L1457.1 1073.7 L1460.1 1074.1 L1463.1 1074.6 L1466.1 1075.0 L1469.1 1075.4 L1472.1 1075.8 L1475.1 1076.1 L1478.1 1076.5 L1481.1 1076.8 L1484.1 1077.2 L1487.1 1077.4 L1490.1 1077.6 L1493.1 1077.7 L1496.1 1077.5 L1499.1 1077.3 L1502.1 1076.8 L1505.1 1076.4 L1508.1 1075.9 L1511.1 1075.4 L1514.1 1075.0 L1517.1 1074.5 L1520.1 1074.1 L1523.1 1073.6 L1526.1 1073.2 L1529.1 1072.7 L1532.1 1072.2 L1535.1 1071.8 L1538.1 1071.4 L1541.1 1071.0 L1544.1 1070.6 L1547.1 1070.1 L1550.1 1069.7 L1553.1 1069.3 L1556.1 1068.9 L1559.1 1068.5 L1562.1 1068.1 L1565.1 1067.7 L1568.1 1067.4 L1571.1 1067.0 L1574.1 1066.6 L1577.1 1066.2 L1580.1 1065.8 L1583.1 1065.4 L1586.1 1064.9 L1589.1 1064.4 L1592.1 1063.7 L1595.1 1063.1 L1598.1 1062.3 L1601.1 1061.6 L1604.1 1060.7 L1607.1 1059.9 L1610.1 1059.0 L1613.1 1058.2 L1616.1 1057.3 L1619.1 1056.3 L1622.1 1055.3 L1625.1 1054.1 L1628.1 1052.7 L1631.1 1051.1 L1634.1 1049.4 L1637.1 1047.6 L1640.1 1045.6 L1643.1 1043.7 L1646.1 1041.6 L1649.1 1039.4 L1652.1 1037.0 L1655.1 1034.6 L1658.1 1032.0 L1661.1 1029.1 L1664.1 1026.2 L1667.1 1023.7 L1670.1 1021.7 L1673.1 1019.8 L1676.1 1018.0 L1679.1 1016.0 L1682.1 1013.5 L1685.1 1010.3 L1688.1 1006.6 L1691.1 1002.8 L1694.1 999.1 L1697.1 996.0 L1700.1 993.2 L1703.1 990.6 L1706.1 988.0 L1709.1 985.6 L1712.1 983.3 L1715.1 981.3 L1718.1 979.5 L1721.1 978.0 L1724.1 976.6 L1727.1 975.4 L1730.1 974.3 L1733.1 973.3 L1736.1 972.4 L1739.1 971.8 L1742.1 971.3 L1745.1 970.8 L1748.1 970.3 L1751.1 970.0 L1754.1 969.8 L1757.1 969.8 L1760.1 969.9 L1763.1 970.3 L1766.1 970.9 L1769.1 971.6 L1772.1 972.4 L1775.1 973.4 L1778.1 975.3 L1781.1 977.8 L1784.1 980.5 L1787.1 983.2 L1790.1 985.6 L1793.1 987.9 L1796.1 990.1 L1799.1 992.4 L1802.1 994.8 L1805.1 997.3 L1808.1 1000.0 L1811.1 1002.7 L1814.1 1005.6 L1817.1 1008.7 L1820.1 1012.2 L1823.1 1016.4 L1826.1 1021.2 L1829.1 1025.7 L1832.1 1029.6 L1835.1 1033.3 L1838.1 1036.7 L1841.1 1040.1 L1844.1 1043.3 L1847.1 1046.5 L1850.1 1049.7 L1853.1 1052.8 L1856.1 1055.8 L1859.1 1058.7 L1862.1 1061.4 L1865.1 1063.9 L1868.1 1066.1 L1871.1 1068.3 L1874.1 1070.4 L1877.1 1072.6 L1880.1 1074.8 L1883.1 1077.4 L1886.1 1080.3 L1889.1 1083.3 L1892.1 1086.2 L1895.1 1088.6 L1898.1 1090.5 L1901.1 1092.0 L1904.1 1093.5 L1907.1 1094.8 L1910.1 1096.2 L1913.1 1097.6 L1916.1 1099.0 L1919.1 1100.3 L1922.1 1101.6 L1925.1 1102.9 L1928.1 1104.1 L1931.1 1105.2 L1934.1 1106.1 L1937.1 1106.9 L1940.1 1107.9 L1943.1 1109.1 L1946.1 1110.9 L1949.1 1115.0 L1952.1 1118.4 L1955.1 1119.1 L1958.1 1119.6 L1961.1 1120.0 L1964.1 1120.2 L1967.1 1120.4 L1970.1 1120.7 L1973.1 1121.0 L1976.1 1121.4 L1979.1 1122.0 L1982.1 1122.8 L1985.1 1123.7 L1988.1 1124.6 L1991.1 1125.6 L1994.1 1126.5 L1997.1 1127.4 L2000.1 1128.1 L2003.1 1128.7 L2006.1 1129.4 L2009.1 1129.9 L2012.1 1130.5 L2015.1 1131.0 L2018.1 1131.5 L2021.1 1131.9 L2024.1 1132.3 L2027.1 1132.7 L2030.1 1133.0 L2033.1 1133.4 L2036.1 1133.7 L2039.1 1134.0 L2042.1 1134.4 L2045.1 1134.7 L2048.1 1135.1 L2051.1 1135.5"/>
<path stroke="#0000A0" d="M308.1 570.3 L311.1 573.7 L314.1 577.1 L317.1 580.5 L320.1 583.9 L323.1 587.3 L326.1 590.7 L329.1 594.1 L332.1 597.4 L335.1 600.6 L338.1 603.8 L341.1 607.0 L344.1 610.2 L347.1 613.4 L350.1 616.7 L353.1 620.0 L356.1 623.3 L359.1 626.5 L362.1 629.6 L365.1 632.5 L368.1 635.1 L371.1 637.6 L374.1 640.0 L377.1 642.5 L380.1 645.2 L383.1 648.4 L386.1 651.9 L389.1 655.6 L392.1 659.3 L395.1 662.6 L398.1 665.5 L401.1 668.1 L404.1 670.6 L407.1 672.9 L410.1 675.1 L413.1 677.2 L416.1 679.0 L419.1 680.7 L422.1 682.3 L425.1 683.9 L428.1 685.6 L431.1 687.6 L434.1 689.9 L437.1 692.3 L440.1 694.8 L443.1 697.3 L446.1 699.5 L449.1 701.6 L452.1 703.7 L455.1 705.7 L458.1 707.6 L461.1 709.4 L464.1 711.0 L467.1 712.4 L470.1 713.7 L473.1 714.9 L476.1 716.0 L479.1 717.1 L482.1 718.0 L485.1 718.9 L488.1 719.8 L491.1 720.5 L494.1 721.2 L497.1 721.9 L500.1 722.6 L503.1 723.3 L506.1 724.1 L509.1 725.0 L512.1 725.9 L515.1 726.9 L518.1 727.9 L521.1 729.0 L524.1 730.0 L527.1 731.1 L530.1 732.3 L533.1 733.5 L536.1 734.8 L539.1 736.0 L542.1 737.1 L545.1 737.9 L548.1 738.6 L551.1 739.1 L554.1 739.6 L557.1 740.1 L560.1 740.5 L563.1 740.9 L566.1 741.4 L569.1 741.9 L572.1 742.5 L575.1 743.0 L578.1 743.4 L581.1 743.5 L584.1 743.3 L587.1 743.0 L590.1 742.4 L593.1 741.8 L596.1 741.1 L599.1 740.6 L602.1 740.1 L605.1 739.7 L608.1 739.3 L611.1 738.9 L614.1 738.5 L617.1 738.1 L620.1 737.7 L623.1 737.4 L626.1 737.0 L629.1 736.7 L632.1 736.4 L635.1 736.0 L638.1 735.6 L641.1 735.0 L644.1 734.1 L647.1 732.8 L650.1 731.3 L653.1 729.8 L656.1 728.3 L659.1 726.9 L662.1 725.8 L665.1 724.6 L668.1 723.6 L671.1 722.5 L674.1 721.4 L677.1 720.2 L680.1 718.9 L683.1 717.5 L686.1 716.0 L689.1 714.6 L692.1 713.4 L695.1 712.7 L698.1 712.1 L701.1 711.6 L704.1 711.1 L707.1 710.8 L710.1 710.5 L713.1 710.4 L716.1 710.6 L719.1 711.2 L722.1 712.1 L725.1 713.2 L728.1 714.4 L731.1 715.7 L734.1 717.8 L737.1 720.2 L740.1 722.5 L743.1 724.1 L746.1 725.3 L749.1 726.3 L752.1 727.5 L755.1 728.9 L758.1 731.0 L761.1 734.0 L764.1 737.6 L767.1 741.3 L770.1 744.7 L773.1 747.9 L776.1 751.0 L779.1 754.0 L782.1 757.1 L785.1 760.2 L788.1 763.4 L791.1 766.7 L794.1 770.1 L797.1 773.4 L800.1 776.6 L803.1 779.5 L806.1 782.2 L809.1 784.7 L812.1 787.0 L815.1 789.2 L818.1 791.5 L821.1 793.8 L824.1 796.4 L827.1 799.2 L830.1 801.8 L833.1 804.2 L836.1 806.1 L839.1 807.6 L842.1 808.9 L845.1 810.0 L848.1 811.2 L851.1 812.4 L854.1 813.8 L857.1 815.4 L860.1 817.2 L863.1 819.1 L866.1 821.0 L869.1 822.9 L872.1 824.8 L875.1 826.6 L878.1 828.2 L881.1 829.7 L884.1 831.1 L887.1 832.4 L890.1 833.7 L893.1 835.0 L896.1 836.3 L899.1 837.6 L902.1 839.0 L905.1 840.4 L908.1 841.9 L911.1 843.4 L914.1 844.8 L917.1 846.0 L920.1 846.8 L923.1 847.4 L926.1 848.0 L929.1 848.4 L932.1 848.8 L935.1 849.2 L938.1 849.6 L941.1 850.0 L944.1 850.4 L947.1 850.9 L950.1 851.3 L953.1 851.7 L956.1 852.2 L959.1 852.6 L962.1 853.1 L965.1 853.5 L968.1 854.0 L971.1 854.5 L974.1 855.0 L977.1 855.5 L980.1 856.0 L983.1 856.5 L986.1 857.1 L989.1 857.7 L992.1 858.3 L995.1 859.0 L998.1 859.8 L1001.1 860.8 L1004.1 862.0 L1007.1 863.4 L1010.1 864.8 L1013.1 866.2 L1016.1 867.5 L1019.1 868.8 L1022.1 870.0 L1025.1 871.3 L1028.1 872.6 L1031.1 874.0 L1034.1 875.5 L1037.1 877.2 L1040.1 879.1 L1043.1 881.1 L1046.1 883.2 L1049.1 885.3 L1052.1 887.3 L1055.1 889.3 L1058.1 891.1 L1061.1 892.8 L1064.1 894.5 L1067.1 896.1 L1070.1 897.7 L1073.1 899.3 L1076.1 900.9 L1079.1 902.6 L1082.1 904.3 L1085.1 906.1 L1088.1 907.9 L1091.1 909.7 L1094.1 911.5 L1097.1 913.3 L1100.1 915.1 L1103.1 916.9 L1106.1 918.7 L1109.1 920.4 L1112.1 922.2 L1115.1 923.9 L1118.1 925.7 L1121.1 927.7 L1124.1 929.9 L1127.1 932.1 L1130.1 934.4 L1133.1 936.6 L1136.1 938.8 L1139.1 940.8 L1142.1 942.5 L1145.1 944.0 L1148.1 945.3 L1151.1 946.5 L1154.1 947.7 L1157.1 949.0 L1160.1 950.3 L1163.1 952.0 L1166.1 954.1 L1169.1 956.4 L1172.1 958.5 L1175.1 960.2 L1178.1 961.0 L1181.1 961.4 L1184.1 961.7 L1187.1 962.0 L1190.1 962.3 L1193.1 963.0 L1196.1 964.7 L1199.1 966.9 L1202.1 968.9 L1205.1 970.4 L1208.1 971.5 L1211.1 972.6 L1214.1 973.6 L1217.1 974.5 L1220.1 975.4 L1223.1 976.2 L1226.1 977.1 L1229.1 977.9 L1232.1 978.7 L1235.1 979.4 L1238.1 980.1 L1241.1 980.8 L1244.1 981.4 L1247.1 982.0 L1250.1 982.5 L1253.1 983.1 L1256.1 983.6 L1259.1 984.0 L1262.1 984.5 L1265.1 984.9 L1268.1 985.3 L1271.1 985.6 L1274.1 985.8 L1277.1 986.0 L1280.1 986.2 L1283.1 986.3 L1286.1 986.5 L1289.1 986.7 L1292.1 986.9 L1295.1 987.3 L1298.1 988.2 L1301.1 989.4 L1304.1 990.5 L1307.1 991.1 L1310.1 991.4 L1313.1 991.6 L1316.1 991.8 L1319.1 991.9 L1322.1 992.1 L1325.1 992.3 L1328.1 992.5 L1331.1 992.8 L1334.1 993.2 L1337.1 993.7 L1340.1 994.3 L1343.1 995.0 L1346.1 995.6 L1349.1 996.1 L1352.1 996.5 L1355.1 996.8 L1358.1 997.1 L1361.1 997.3 L1364.1 997.5 L1367.1 997.7 L1370.1 997.9 L1373.1 998.0 L1376.1 998.1 L1379.1 998.0 L1382.1 997.7 L1385.1 997.2 L1388.1 996.8 L1391.1 996.7 L1394.1 996.8 L1397.1 997.3 L1400.1 998.0 L1403.1 998.8 L1406.1 999.7 L1409.1 1000.5 L1412.1 1001.3 L1415.1 1001.9 L1418.1 1002.6 L1421.1 1003.2 L1424.1 1003.8 L1427.1 1004.4 L1430.1 1005.0 L1433.1 1005.6 L1436.1 1006.1 L1439.1 1006.5 L1442.1 1006.9 L1445.1 1007.3 L1448.1 1007.6 L1451.1 1008.0 L1454.1 1008.3 L1457.1 1008.7 L1460.1 1009.2 L1463.1 1009.9 L1466.1 1010.8 L1469.1 1011.6 L1472.1 1012.1 L1475.1 1012.1 L1478.1 1011.0 L1481.1 1009.7 L1484.1 1009.2 L1487.1 1009.5 L1490.1 1010.2 L1493.1 1010.7 L1496.1 1010.8 L1499.1 1010.5 L1502.1 1009.8 L1505.1 1008.9 L1508.1 1007.9 L1511.1 1007.0 L1514.1 1006.2 L1517.1 1005.4 L1520.1 1004.6 L1523.1 1003.8 L1526.1 1003.0 L1529.1 1002.1 L1532.1 1001.3 L1535.1 1000.5 L1538.1 999.7 L1541.1 999.0 L1544.1 998.2 L1547.1 997.5 L1550.1 996.7 L1553.1 996.0 L1556.1 995.2 L1559.1 994.4 L1562.1 993.6 L1565.1 992.9 L1568.1 992.1 L1571.1 991.4 L1574.1 990.6 L1577.1 989.8 L1580.1 989.0 L1583.1 988.1 L1586.1 987.2 L1589.1 986.1 L1592.1 985.0 L1595.1 983.9 L1598.1 982.6 L1601.1 981.3 L1604.1 979.8 L1607.1 978.3 L1610.1 976.6 L1613.1 974.8 L1616.1 972.7 L1619.1 970.3 L1622.1 967.7 L1625.1 965.1 L1628.1 962.4 L1631.1 959.7 L1634.1 956.9 L1637.1 954.1 L1640.1 951.2 L1643.1 948.2 L1646.1 944.9 L1649.1 941.5 L1652.1 937.7 L1655.1 933.7 L1658.1 929.4 L1661.1 924.9 L1664.1 920.4 L1667.1 915.9 L1670.1 911.5 L1673.1 907.1 L1676.1 902.6 L1679.1 898.1 L1682.1 893.5 L1685.1 888.7 L1688.1 883.8 L1691.1 878.4 L1694.1 872.3 L1697.1 867.1 L1700.1 862.6 L1703.1 858.3 L1706.1 854.0 L1709.1 849.5 L1712.1 844.2 L1715.1 838.5 L1718.1 833.2 L1721.1 829.2 L1724.1 826.3 L1727.1 824.0 L1730.1 821.9 L1733.1 820.0 L1736.1 818.0 L1739.1 815.9 L1742.1 813.9 L1745.1 812.2 L1748.1 811.3 L1751.1 810.6 L1754.1 810.1 L1757.1 809.8 L1760.1 809.8 L1763.1 810.4 L1766.1 811.5 L1769.1 813.0 L1772.1 814.7 L1775.1 816.9 L1778.1 820.3 L1781.1 824.4 L1784.1 828.5 L1787.1 831.7 L1790.1 833.9 L1793.1 835.7 L1796.1 837.6 L1799.1 840.2 L1802.1 843.9 L1805.1 848.9 L1808.1 854.2 L1811.1 859.5 L1814.1 864.8 L1817.1 870.2 L1820.1 875.7 L1823.1 881.1 L1826.1 886.5 L1829.1 891.9 L1832.1 897.3 L1835.1 902.7 L1838.1 908.3 L1841.1 913.9 L1844.1 919.2 L1847.1 924.0 L1850.1 928.2 L1853.1 932.0 L1856.1 935.8 L1859.1 939.7 L1862.1 944.0 L1865.1 948.4 L1868.1 953.0 L1871.1 957.5 L1874.1 962.1 L1877.1 966.6 L1880.1 971.2 L1883.1 975.7 L1886.1 980.2 L1889.1 984.6 L1892.1 988.6 L1895.1 992.5 L1898.1 996.7 L1901.1 1001.7 L1904.1 1008.5 L1907.1 1011.1 L1910.1 1012.2 L1913.1 1013.1 L1916.1 1014.2 L1919.1 1016.0 L1922.1 1018.6 L1925.1 1021.6 L1928.1 1025.0 L1931.1 1028.5 L1934.1 1031.8 L1937.1 1035.7 L1940.1 1040.0 L1943.1 1044.0 L1946.1 1046.9 L1949.1 1048.1 L1952.1 1048.7 L1955.1 1049.2 L1958.1 1049.7 L1961.1 1050.6 L1964.1 1051.9 L1967.1 1053.5 L1970.1 1055.3 L1973.1 1057.3 L1976.1 1059.3 L1979.1 1061.1 L1982.1 1063.4 L1985.1 1065.9 L1988.1 1068.4 L1991.1 1070.3 L1994.1 1071.3 L1997.1 1071.2 L2000.1 1071.0 L2003.1 1070.6 L2006.1 1070.3 L2009.1 1070.1 L2012.1 1070.6 L2015.1 1071.8 L2018.1 1073.4 L2021.1 1075.1 L2024.1 1076.4 L2027.1 1077.2 L2030.1 1076.9 L2033.1 1075.9 L2036.1 1075.0 L2039.1 1075.4 L2042.1 1077.9 L2045.1 1080.3 L2048.1 1082.5 L2051.1 1084.6"/>
<path stroke="#808000" d="M308.1 490.5 L311.1 494.2 L314.1 497.8 L317.1 501.4 L320.1 505.2 L323.1 508.9 L326.1 512.6 L329.1 516.1 L332.1 519.4 L335.1 522.5 L338.1 525.4 L341.1 528.3 L344.1 531.2 L347.1 534.3 L350.1 537.7 L353.1 541.3 L356.1 544.7 L359.1 547.5 L362.1 549.5 L365.1 551.1 L368.1 552.6 L371.1 554.0 L374.1 555.8 L377.1 558.2 L380.1 561.5 L383.1 565.4 L386.1 569.4 L389.1 573.1 L392.1 575.8 L395.1 577.7 L398.1 579.3 L401.1 580.7 L404.1 582.0 L407.1 583.3 L410.1 584.7 L413.1 586.1 L416.1 587.4 L419.1 588.7 L422.1 590.0 L425.1 591.3 L428.1 592.6 L431.1 593.9 L434.1 595.2 L437.1 596.5 L440.1 597.8 L443.1 599.1 L446.1 600.4 L449.1 601.9 L452.1 603.7 L455.1 605.4 L458.1 606.9 L461.1 607.9 L464.1 608.2 L467.1 608.4 L470.1 608.4 L473.1 608.5 L476.1 608.6 L479.1 608.6 L482.1 608.7 L485.1 608.8 L488.1 609.0 L491.1 609.3 L494.1 609.7 L497.1 610.2 L500.1 610.7 L503.1 611.0 L506.1 611.3 L509.1 611.4 L512.1 611.5 L515.1 611.6 L518.1 611.7 L521.1 611.8 L524.1 611.9 L527.1 612.2 L530.1 612.5 L533.1 613.0 L536.1 613.6 L539.1 614.1 L542.1 614.7 L545.1 615.2 L548.1 615.6 L551.1 616.2 L554.1 616.7 L557.1 617.0 L560.1 617.1 L563.1 617.1 L566.1 616.9 L569.1 616.7 L572.1 616.4 L575.1 616.1 L578.1 615.7 L581.1 615.2 L584.1 614.4 L587.1 613.1 L590.1 611.6 L593.1 610.1 L596.1 609.1 L599.1 608.7 L602.1 608.5 L605.1 608.3 L608.1 608.2 L611.1 608.2 L614.1 608.3 L617.1 608.8 L620.1 609.4 L623.1 610.1 L626.1 610.8 L629.1 611.2 L632.1 611.2 L635.1 611.2 L638.1 611.0 L641.1 610.8 L644.1 610.6 L647.1 610.1 L650.1 608.9 L653.1 607.1 L656.1 605.2 L659.1 603.2 L662.1 601.4 L665.1 600.0 L668.1 598.7 L671.1 597.4 L674.1 596.2 L677.1 595.1 L680.1 594.4 L683.1 594.0 L686.1 593.7 L689.1 593.5 L692.1 593.3 L695.1 593.2 L698.1 593.1 L701.1 593.0 L704.1 593.1 L707.1 593.5 L710.1 594.0 L713.1 594.6 L716.1 595.7 L719.1 597.4 L722.1 599.6 L725.1 602.3 L728.1 605.1 L731.1 607.8 L734.1 610.5 L737.1 613.3 L740.1 616.2 L743.1 619.4 L746.1 622.7 L749.1 626.3 L752.1 630.3 L755.1 635.0 L758.1 640.3 L761.1 645.9 L764.1 651.4 L767.1 656.4 L770.1 660.9 L773.1 665.3 L776.1 669.5 L779.1 673.6 L782.1 677.6 L785.1 681.3 L788.1 685.0 L791.1 688.4 L794.1 691.7 L797.1 694.9 L800.1 697.9 L803.1 700.8 L806.1 703.6 L809.1 706.3 L812.1 708.9 L815.1 711.4 L818.1 713.8 L821.1 716.2 L824.1 718.5 L827.1 720.8 L830.1 723.1 L833.1 725.5 L836.1 727.9 L839.1 730.4 L842.1 732.9 L845.1 735.4 L848.1 737.9 L851.1 740.2 L854.1 742.5 L857.1 744.6 L860.1 746.6 L863.1 748.6 L866.1 750.5 L869.1 752.3 L872.1 754.1 L875.1 755.7 L878.1 757.3 L881.1 758.9 L884.1 760.3 L887.1 761.8 L890.1 763.2 L893.1 764.5 L896.1 765.8 L899.1 767.1 L902.1 768.4 L905.1 769.6 L908.1 770.8 L911.1 772.0 L914.1 773.1 L917.1 774.2 L920.1 775.4 L923.1 776.5 L926.1 777.6 L929.1 778.6 L932.1 779.7 L935.1 780.6 L938.1 781.5 L941.1 782.4 L944.1 783.1 L947.1 783.8 L950.1 784.4 L953.1 785.0 L956.1 785.5 L959.1 786.0 L962.1 786.5 L965.1 787.0 L968.1 787.6 L971.1 788.2 L974.1 788.9 L977.1 789.6 L980.1 790.5 L983.1 791.4 L986.1 792.4 L989.1 793.5 L992.1 794.6 L995.1 795.8 L998.1 797.0 L1001.1 798.2 L1004.1 799.6 L1007.1 801.1 L1010.1 802.6 L1013.1 804.2 L1016.1 805.9 L1019.1 807.6 L1022.1 809.3 L1025.1 811.0 L1028.1 812.8 L1031.1 814.6 L1034.1 816.5 L1037.1 818.3 L1040.1 820.1 L1043.1 821.9 L1046.1 823.6 L1049.1 825.1 L1052.1 826.6 L1055.1 828.0 L1058.1 829.4 L1061.1 830.7 L1064.1 832.0 L1067.1 833.3 L1070.1 834.6 L1073.1 836.0 L1076.1 837.4 L1079.1 838.9 L1082.1 840.5 L1085.1 842.2 L1088.1 844.0 L1091.1 845.8 L1094.1 847.7 L1097.1 849.6 L1100.1 851.4 L1103.1 853.2 L1106.1 854.9 L1109.1 856.5 L1112.1 858.0 L1115.1 859.5 L1118.1 861.0 L1121.1 862.5 L1124.1 864.1 L1127.1 865.7 L1130.1 867.5 L1133.1 869.4 L1136.1 871.6 L1139.1 873.8 L1142.1 876.1 L1145.1 878.3 L1148.1 880.4 L1151.1 882.2 L1154.1 884.1 L1157.1 886.0 L1160.1 887.8 L1163.1 889.5 L1166.1 891.1 L1169.1 892.5 L1172.1 893.8 L1175.1 894.7 L1178.1 895.5 L1181.1 896.1 L1184.1 896.6 L1187.1 897.1 L1190.1 897.7 L1193.1 898.4 L1196.1 899.3 L1199.1 900.3 L1202.1 901.3 L1205.1 902.4 L1208.1 903.4 L1211.1 904.4 L1214.1 905.3 L1217.1 906.4 L1220.1 907.4 L1223.1 908.5 L1226.1 909.5 L1229.1 910.5 L1232.1 911.5 L1235.1 912.5 L1238.1 913.3 L1241.1 914.1 L1244.1 914.8 L1247.1 915.4 L1250.1 915.9 L1253.1 916.4 L1256.1 916.9 L1259.1 917.3 L1262.1 917.7 L1265.1 918.0 L1268.1 918.2 L1271.1 918.2 L1274.1 918.1 L1277.1 917.9 L1280.1 917.6 L1283.1 917.3 L1286.1 916.9 L1289.1 916.6 L1292.1 916.4 L1295.1 916.4 L1298.1 916.7 L1301.1 917.5 L1304.1 918.3 L1307.1 919.0 L1310.1 919.3 L1313.1 919.6 L1316.1 919.9 L1319.1 920.1 L1322.1 920.3 L1325.1 920.5 L1328.1 920.7 L1331.1 920.8 L1334.1 921.0 L1337.1 921.0 L1340.1 921.1 L1343.1 921.1 L1346.1 921.0 L1349.1 921.0 L1352.1 920.9 L1355.1 920.9 L1358.1 920.8 L1361.1 920.7 L1364.1 920.7 L1367.1 920.6 L1370.1 920.6 L1373.1 920.7 L1376.1 920.9 L1379.1 921.2 L1382.1 921.6 L1385.1 922.0 L1388.1 922.4 L1391.1 922.7 L1394.1 923.0 L1397.1 923.2 L1400.1 923.4 L1403.1 923.5 L1406.1 923.7 L1409.1 923.9 L1412.1 924.1 L1415.1 924.4 L1418.1 924.7 L1421.1 925.0 L1424.1 925.4 L1427.1 925.8 L1430.1 926.2 L1433.1 926.7 L1436.1 927.2 L1439.1 927.8 L1442.1 928.5 L1445.1 929.4 L1448.1 930.2 L1451.1 931.2 L1454.1 932.0 L1457.1 932.9 L1460.1 933.7 L1463.1 934.5 L1466.1 935.3 L1469.1 936.1 L1472.1 936.6 L1475.1 936.6 L1478.1 936.4 L1481.1 936.0 L1484.1 935.5 L1487.1 934.9 L1490.1 934.4 L1493.1 933.8 L1496.1 933.2 L1499.1 932.6 L1502.1 931.8 L1505.1 931.1 L1508.1 930.2 L1511.1 929.3 L1514.1 928.3 L1517.1 927.2 L1520.1 926.0 L1523.1 924.8 L1526.1 923.6 L1529.1 922.4 L1532.1 921.2 L1535.1 920.0 L1538.1 918.8 L1541.1 917.5 L1544.1 916.2 L1547.1 915.0 L1550.1 913.8 L1553.1 912.7 L1556.1 911.8 L1559.1 910.9 L1562.1 910.0 L1565.1 908.9 L1568.1 907.9 L1571.1 906.8 L1574.1 905.6 L1577.1 904.4 L1580.1 903.2 L1583.1 901.9 L1586.1 900.5 L1589.1 899.1 L1592.1 897.6 L1595.1 896.1 L1598.1 894.4 L1601.1 892.7 L1604.1 890.9 L1607.1 888.9 L1610.1 886.9 L1613.1 884.7 L1616.1 882.4 L1619.1 879.9 L1622.1 877.1 L1625.1 874.1 L1628.1 870.8 L1631.1 867.3 L1634.1 863.4 L1637.1 859.2 L1640.1 855.1 L1643.1 851.6 L1646.1 848.6 L1649.1 844.7 L1652.1 839.2 L1655.1 833.5 L1658.1 829.0 L1661.1 825.6 L1664.1 822.4 L1667.1 818.7 L1670.1 813.4 L1673.1 806.3 L1676.1 798.3 L1679.1 790.8 L1682.1 784.6 L1685.1 779.1 L1688.1 773.9 L1691.1 768.9 L1694.1 763.7 L1697.1 758.3 L1700.1 752.7 L1703.1 746.9 L1706.1 741.2 L1709.1 735.2 L1712.1 729.6 L1715.1 724.9 L1718.1 720.6 L1721.1 716.7 L1724.1 713.1 L1727.1 709.5 L1730.1 706.0 L1733.1 703.0 L1736.1 700.9 L1739.1 699.6 L1742.1 698.5 L1745.1 697.6 L1748.1 697.0 L1751.1 696.7 L1754.1 696.8 L1757.1 697.1 L1760.1 697.5 L1763.1 698.4 L1766.1 699.9 L1769.1 701.9 L1772.1 704.0 L1775.1 707.0 L1778.1 710.8 L1781.1 714.8 L1784.1 718.6 L1787.1 722.0 L1790.1 725.4 L1793.1 728.8 L1796.1 732.4 L1799.1 736.0 L1802.1 739.9 L1805.1 744.5 L1808.1 749.9 L1811.1 755.7 L1814.1 761.5 L1817.1 767.5 L1820.1 773.6 L1823.1 779.7 L1826.1 785.7 L1829.1 791.9 L1832.1 798.0 L1835.1 804.1 L1838.1 809.9 L1841.1 815.3 L1844.1 820.4 L1847.1 825.4 L1850.1 830.3 L1853.1 835.0 L1856.1 839.6 L1859.1 844.0 L1862.1 848.4 L1865.1 852.8 L1868.1 857.7 L1871.1 862.9 L1874.1 868.4 L1877.1 873.9 L1880.1 879.4 L1883.1 884.8 L1886.1 890.3 L1889.1 895.6 L1892.1 900.7 L1895.1 905.8 L1898.1 910.7 L1901.1 915.5 L1904.1 920.0 L1907.1 924.3 L1910.1 928.2 L1913.1 931.8 L1916.1 935.3 L1919.1 938.6 L1922.1 941.8 L1925.1 944.9 L1928.1 947.8 L1931.1 950.6 L1934.1 953.7 L1937.1 957.0 L1940.1 961.1 L1943.1 965.4 L1946.1 969.4 L1949.1 972.6 L1952.1 974.6 L1955.1 976.2 L1958.1 977.5 L1961.1 978.6 L1964.1 979.7 L1967.1 980.8 L1970.1 982.1 L1973.1 983.7 L1976.1 985.4 L1979.1 987.3 L1982.1 989.1 L1985.1 990.8 L1988.1 992.4 L1991.1 994.1 L1994.1 995.7 L1997.1 997.1 L2000.1 998.2 L2003.1 999.2 L2006.1 1000.1 L2009.1 1001.0 L2012.1 1001.7 L2015.1 1002.3 L2018.1 1002.8 L2021.1 1003.1 L2024.1 1003.3 L2027.1 1003.5 L2030.1 1003.7 L2033.1 1004.1 L2036.1 1004.8 L2039.1 1005.8 L2042.1 1006.9 L2045.1 1007.9 L2048.1 1008.8 L2051.1 1009.7"/>
<path stroke="#FF0000" d="M308.1 464.9 L311.1 469.7 L314.1 474.6 L317.1 479.4 L320.1 484.5 L323.1 489.7 L326.1 494.7 L329.1 499.2 L332.1 503.0 L335.1 506.3 L338.1 509.3 L341.1 512.1 L344.1 514.9 L347.1 517.8 L350.1 520.9 L353.1 524.2 L356.1 527.5 L359.1 530.6 L362.1 533.2 L365.1 535.3 L368.1 536.9 L371.1 538.2 L374.1 539.5 L377.1 540.9 L380.1 542.6 L383.1 544.9 L386.1 547.7 L389.1 550.8 L392.1 553.9 L395.1 556.7 L398.1 558.9 L401.1 560.9 L404.1 562.6 L407.1 564.2 L410.1 565.8 L413.1 567.3 L416.1 568.9 L419.1 570.5 L422.1 572.0 L425.1 573.6 L428.1 575.0 L431.1 576.4 L434.1 577.8 L437.1 579.0 L440.1 580.2 L443.1 581.3 L446.1 582.5 L449.1 583.7 L452.1 585.0 L455.1 586.7 L458.1 588.5 L461.1 589.7 L464.1 590.0 L467.1 589.7 L470.1 589.3 L473.1 588.8 L476.1 588.2 L479.1 587.6 L482.1 587.2 L485.1 586.9 L488.1 586.9 L491.1 587.2 L494.1 587.8 L497.1 588.4 L500.1 589.2 L503.1 589.9 L506.1 590.5 L509.1 590.9 L512.1 591.2 L515.1 591.2 L518.1 591.2 L521.1 591.2 L524.1 591.2 L527.1 591.2 L530.1 591.2 L533.1 591.2 L536.1 591.2 L539.1 591.2 L542.1 591.2 L545.1 591.2 L548.1 591.0 L551.1 590.7 L554.1 590.1 L557.1 589.4 L560.1 588.8 L563.1 588.3 L566.1 588.1 L569.1 588.1 L572.1 588.3 L575.1 588.4 L578.1 588.6 L581.1 588.8 L584.1 588.8 L587.1 588.1 L590.1 586.9 L593.1 585.5 L596.1 584.2 L599.1 583.4 L602.1 583.3 L605.1 583.2 L608.1 583.1 L611.1 583.0 L614.1 582.9 L617.1 582.9 L620.1 582.9 L623.1 582.9 L626.1 583.1 L629.1 583.3 L632.1 583.6 L635.1 583.9 L638.1 584.0 L641.1 584.1 L644.1 583.8 L647.1 583.4 L650.1 582.8 L653.1 582.1 L656.1 581.3 L659.1 580.5 L662.1 579.4 L665.1 578.0 L668.1 576.3 L671.1 574.5 L674.1 572.8 L677.1 571.4 L680.1 570.3 L683.1 569.1 L686.1 568.0 L689.1 567.0 L692.1 566.2 L695.1 565.7 L698.1 565.7 L701.1 565.9 L704.1 566.4 L707.1 567.0 L710.1 567.8 L713.1 568.6 L716.1 570.0 L719.1 572.3 L722.1 575.3 L725.1 578.6 L728.1 582.0 L731.1 585.3 L734.1 588.2 L737.1 590.9 L740.1 593.5 L743.1 596.2 L746.1 599.1 L749.1 602.2 L752.1 605.8 L755.1 610.1 L758.1 615.8 L761.1 622.3 L764.1 628.9 L767.1 635.0 L770.1 640.2 L773.1 645.3 L776.1 650.3 L779.1 655.0 L782.1 659.6 L785.1 663.9 L788.1 668.1 L791.1 672.0 L794.1 675.8 L797.1 679.3 L800.1 682.7 L803.1 685.9 L806.1 689.1 L809.1 692.1 L812.1 695.1 L815.1 697.9 L818.1 700.7 L821.1 703.4 L824.1 706.0 L827.1 708.6 L830.1 711.2 L833.1 713.7 L836.1 716.2 L839.1 718.7 L842.1 721.2 L845.1 723.6 L848.1 726.0 L851.1 728.4 L854.1 730.6 L857.1 732.8 L860.1 734.9 L863.1 736.9 L866.1 738.9 L869.1 740.8 L872.1 742.7 L875.1 744.7 L878.1 746.8 L881.1 749.0 L884.1 751.2 L887.1 753.5 L890.1 755.8 L893.1 758.1 L896.1 760.3 L899.1 762.6 L902.1 765.1 L905.1 767.6 L908.1 770.0 L911.1 772.2 L914.1 774.1 L917.1 775.6 L920.1 777.1 L923.1 778.4 L926.1 779.6 L929.1 780.7 L932.1 781.8 L935.1 782.8 L938.1 783.7 L941.1 784.6 L944.1 785.5 L947.1 786.3 L950.1 787.0 L953.1 787.6 L956.1 788.2 L959.1 788.8 L962.1 789.4 L965.1 790.1 L968.1 790.7 L971.1 791.5 L974.1 792.4 L977.1 793.4 L980.1 794.7 L983.1 796.1 L986.1 797.6 L989.1 799.2 L992.1 800.9 L995.1 802.6 L998.1 804.2 L1001.1 805.9 L1004.1 807.4 L1007.1 809.0 L1010.1 810.7 L1013.1 812.3 L1016.1 814.0 L1019.1 815.8 L1022.1 817.6 L1025.1 819.5 L1028.1 821.5 L1031.1 823.6 L1034.1 825.7 L1037.1 827.8 L1040.1 830.0 L1043.1 832.0 L1046.1 834.0 L1049.1 835.9 L1052.1 837.7 L1055.1 839.5 L1058.1 841.2 L1061.1 842.9 L1064.1 844.6 L1067.1 846.3 L1070.1 848.0 L1073.1 849.8 L1076.1 851.6 L1079.1 853.5 L1082.1 855.4 L1085.1 857.4 L1088.1 859.4 L1091.1 861.4 L1094.1 863.4 L1097.1 865.3 L1100.1 867.2 L1103.1 869.0 L1106.1 870.8 L1109.1 872.5 L1112.1 874.3 L1115.1 876.0 L1118.1 877.8 L1121.1 879.7 L1124.1 881.7 L1127.1 883.8 L1130.1 886.2 L1133.1 888.5 L1136.1 890.7 L1139.1 892.5 L1142.1 894.0 L1145.1 895.4 L1148.1 896.7 L1151.1 897.9 L1154.1 899.0 L1157.1 900.0 L1160.1 901.1 L1163.1 902.2 L1166.1 903.4 L1169.1 904.5 L1172.1 905.6 L1175.1 906.7 L1178.1 907.7 L1181.1 908.6 L1184.1 909.4 L1187.1 910.2 L1190.1 910.9 L1193.1 911.6 L1196.1 912.3 L1199.1 913.0 L1202.1 913.7 L1205.1 914.4 L1208.1 915.1 L1211.1 915.7 L1214.1 916.4 L1217.1 917.0 L1220.1 917.7 L1223.1 918.3 L1226.1 918.9 L1229.1 919.6 L1232.1 920.2 L1235.1 920.7 L1238.1 921.3 L1241.1 921.9 L1244.1 922.4 L1247.1 922.9 L1250.1 923.5 L1253.1 924.1 L1256.1 924.7 L1259.1 925.2 L1262.1 925.8 L1265.1 926.2 L1268.1 926.4 L1271.1 926.5 L1274.1 926.4 L1277.1 926.3 L1280.1 926.1 L1283.1 925.9 L1286.1 925.7 L1289.1 925.5 L1292.1 925.4 L1295.1 925.4 L1298.1 926.1 L1301.1 927.3 L1304.1 928.5 L1307.1 928.9 L1310.1 929.0 L1313.1 929.1 L1316.1 929.2 L1319.1 929.3 L1322.1 929.4 L1325.1 929.4 L1328.1 929.5 L1331.1 929.5 L1334.1 929.6 L1337.1 929.6 L1340.1 929.6 L1343.1 929.6 L1346.1 929.6 L1349.1 929.6 L1352.1 929.6 L1355.1 929.6 L1358.1 929.6 L1361.1 929.6 L1364.1 929.6 L1367.1 929.6 L1370.1 929.6 L1373.1 929.5 L1376.1 929.2 L1379.1 928.8 L1382.1 928.5 L1385.1 928.1 L1388.1 927.8 L1391.1 927.7 L1394.1 927.7 L1397.1 927.8 L1400.1 928.0 L1403.1 928.1 L1406.1 928.4 L1409.1 928.6 L1412.1 928.8 L1415.1 929.1 L1418.1 929.6 L1421.1 930.1 L1424.1 930.8 L1427.1 931.5 L1430.1 932.1 L1433.1 932.8 L1436.1 933.4 L1439.1 933.8 L1442.1 934.2 L1445.1 934.3 L1448.1 934.3 L1451.1 934.3 L1454.1 934.2 L1457.1 934.2 L1460.1 934.1 L1463.1 934.0 L1466.1 933.9 L1469.1 933.7 L1472.1 933.6 L1475.1 933.1 L1478.1 932.3 L1481.1 931.3 L1484.1 930.1 L1487.1 928.9 L1490.1 927.8 L1493.1 926.8 L1496.1 925.8 L1499.1 924.8 L1502.1 923.7 L1505.1 922.6 L1508.1 921.4 L1511.1 920.0 L1514.1 918.5 L1517.1 917.0 L1520.1 915.4 L1523.1 913.8 L1526.1 912.3 L1529.1 910.7 L1532.1 909.3 L1535.1 907.9 L1538.1 906.6 L1541.1 905.3 L1544.1 904.0 L1547.1 902.7 L1550.1 901.3 L1553.1 899.9 L1556.1 898.4 L1559.1 896.9 L1562.1 895.7 L1565.1 894.6 L1568.1 893.7 L1571.1 892.6 L1574.1 891.4 L1577.1 890.1 L1580.1 888.7 L1583.1 887.3 L1586.1 885.8 L1589.1 884.2 L1592.1 882.5 L1595.1 880.7 L1598.1 878.9 L1601.1 877.0 L1604.1 875.1 L1607.1 873.0 L1610.1 870.8 L1613.1 868.4 L1616.1 866.0 L1619.1 863.4 L1622.1 860.6 L1625.1 857.6 L1628.1 854.4 L1631.1 851.4 L1634.1 848.5 L1637.1 845.2 L1640.1 840.9 L1643.1 836.2 L1646.1 831.5 L1649.1 827.6 L1652.1 823.9 L1655.1 819.7 L1658.1 814.3 L1661.1 806.5 L1664.1 797.8 L1667.1 789.9 L1670.1 783.8 L1673.1 778.4 L1676.1 773.5 L1679.1 768.7 L1682.1 763.8 L1685.1 758.7 L1688.1 753.6 L1691.1 748.3 L1694.1 742.7 L1697.1 736.7 L1700.1 730.3 L1703.1 723.4 L1706.1 715.4 L1709.1 704.8 L1712.1 696.0 L1715.1 691.8 L1718.1 688.9 L1721.1 686.5 L1724.1 684.1 L1727.1 681.1 L1730.1 677.8 L1733.1 674.9 L1736.1 672.6 L1739.1 670.9 L1742.1 669.3 L1745.1 668.0 L1748.1 667.0 L1751.1 666.6 L1754.1 666.7 L1757.1 667.3 L1760.1 668.0 L1763.1 669.4 L1766.1 671.7 L1769.1 674.6 L1772.1 677.5 L1775.1 681.2 L1778.1 685.5 L1781.1 689.9 L1784.1 693.8 L1787.1 696.9 L1790.1 699.8 L1793.1 702.9 L1796.1 706.5 L1799.1 710.9 L1802.1 715.8 L1805.1 720.9 L1808.1 725.9 L1811.1 730.8 L1814.1 735.7 L1817.1 740.8 L1820.1 746.1 L1823.1 752.0 L1826.1 758.3 L1829.1 765.0 L1832.1 771.6 L1835.1 777.8 L1838.1 783.5 L1841.1 788.6 L1844.1 793.4 L1847.1 798.2 L1850.1 803.2 L1853.1 808.5 L1856.1 813.9 L1859.1 819.5 L1862.1 825.1 L1865.1 830.6 L1868.1 836.1 L1871.1 841.6 L1874.1 847.1 L1877.1 852.6 L1880.1 858.2 L1883.1 864.0 L1886.1 870.1 L1889.1 876.2 L1892.1 882.2 L1895.1 887.8 L1898.1 892.9 L1901.1 897.4 L1904.1 901.2 L1907.1 904.6 L1910.1 907.9 L1913.1 911.2 L1916.1 915.0 L1919.1 919.2 L1922.1 923.5 L1925.1 927.7 L1928.1 931.2 L1931.1 934.0 L1934.1 936.3 L1937.1 938.4 L1940.1 940.9 L1943.1 944.4 L1946.1 948.7 L1949.1 953.1 L1952.1 956.5 L1955.1 958.8 L1958.1 960.7 L1961.1 962.3 L1964.1 963.8 L1967.1 965.3 L1970.1 966.8 L1973.1 968.3 L1976.1 969.8 L1979.1 971.2 L1982.1 972.7 L1985.1 974.3 L1988.1 976.1 L1991.1 978.3 L1994.1 980.5 L1997.1 982.3 L2000.1 983.6 L2003.1 984.4 L2006.1 985.1 L2009.1 985.7 L2012.1 986.2 L2015.1 986.8 L2018.1 987.4 L2021.1 988.0 L2024.1 988.7 L2027.1 989.4 L2030.1 990.1 L2033.1 990.8 L2036.1 991.5 L2039.1 992.2 L2042.1 992.9 L2045.1 993.6 L2048.1 994.3 L2051.1 995.0"/>
<path stroke="#008000" d="M308.1 448.5 L311.1 452.8 L314.1 457.2 L317.1 461.5 L320.1 466.1 L323.1 470.6 L326.1 475.1 L329.1 479.2 L332.1 483.0 L335.1 486.4 L338.1 489.5 L341.1 492.6 L344.1 495.7 L347.1 498.9 L350.1 502.4 L353.1 506.2 L356.1 510.0 L359.1 513.6 L362.1 516.6 L365.1 518.8 L368.1 520.4 L371.1 521.8 L374.1 523.1 L377.1 524.4 L380.1 526.1 L383.1 528.3 L386.1 531.1 L389.1 534.1 L392.1 537.0 L395.1 539.4 L398.1 540.9 L401.1 542.0 L404.1 542.9 L407.1 543.6 L410.1 544.4 L413.1 545.3 L416.1 546.4 L419.1 548.0 L422.1 550.1 L425.1 552.3 L428.1 554.4 L431.1 556.3 L434.1 557.7 L437.1 559.0 L440.1 560.1 L443.1 561.1 L446.1 562.2 L449.1 563.2 L452.1 564.4 L455.1 565.9 L458.1 567.4 L461.1 568.5 L464.1 568.7 L467.1 568.7 L470.1 568.7 L473.1 568.7 L476.1 568.7 L479.1 568.7 L482.1 568.7 L485.1 568.7 L488.1 568.8 L491.1 568.9 L494.1 569.0 L497.1 569.2 L500.1 569.3 L503.1 569.4 L506.1 569.4 L509.1 569.4 L512.1 569.2 L515.1 569.1 L518.1 568.9 L521.1 568.8 L524.1 568.7 L527.1 568.9 L530.1 569.4 L533.1 570.1 L536.1 570.8 L539.1 571.4 L542.1 571.8 L545.1 571.8 L548.1 571.6 L551.1 571.2 L554.1 570.8 L557.1 570.4 L560.1 570.1 L563.1 569.8 L566.1 569.6 L569.1 569.5 L572.1 569.4 L575.1 569.2 L578.1 569.0 L581.1 568.7 L584.1 568.2 L587.1 567.4 L590.1 566.4 L593.1 565.2 L596.1 564.0 L599.1 562.8 L602.1 561.7 L605.1 560.6 L608.1 559.4 L611.1 558.2 L614.1 557.1 L617.1 556.2 L620.1 555.8 L623.1 555.8 L626.1 555.9 L629.1 556.2 L632.1 556.5 L635.1 556.7 L638.1 556.9 L641.1 556.9 L644.1 556.5 L647.1 555.8 L650.1 554.8 L653.1 553.6 L656.1 552.3 L659.1 551.0 L662.1 549.4 L665.1 547.5 L668.1 545.3 L671.1 543.1 L674.1 541.1 L677.1 539.5 L680.1 538.4 L683.1 537.2 L686.1 536.1 L689.1 535.2 L692.1 534.5 L695.1 534.1 L698.1 534.0 L701.1 534.2 L704.1 534.5 L707.1 535.0 L710.1 535.6 L713.1 536.3 L716.1 537.4 L719.1 539.4 L722.1 542.0 L725.1 545.1 L728.1 548.5 L731.1 552.0 L734.1 555.6 L737.1 559.8 L740.1 564.5 L743.1 569.5 L746.1 574.7 L749.1 579.9 L752.1 585.3 L755.1 591.1 L758.1 597.1 L761.1 603.0 L764.1 608.6 L767.1 613.8 L770.1 618.4 L773.1 622.7 L776.1 626.7 L779.1 630.7 L782.1 635.1 L785.1 639.6 L788.1 644.4 L791.1 649.2 L794.1 653.9 L797.1 658.6 L800.1 662.9 L803.1 666.9 L806.1 670.6 L809.1 674.0 L812.1 677.2 L815.1 680.3 L818.1 683.3 L821.1 686.1 L824.1 688.8 L827.1 691.4 L830.1 693.8 L833.1 696.0 L836.1 698.1 L839.1 700.1 L842.1 702.1 L845.1 704.1 L848.1 706.1 L851.1 708.3 L854.1 710.6 L857.1 713.0 L860.1 715.5 L863.1 718.0 L866.1 720.6 L869.1 723.1 L872.1 725.6 L875.1 728.0 L878.1 730.3 L881.1 732.5 L884.1 734.8 L887.1 736.9 L890.1 739.1 L893.1 741.2 L896.1 743.2 L899.1 745.1 L902.1 747.0 L905.1 748.8 L908.1 750.5 L911.1 752.2 L914.1 753.9 L917.1 755.5 L920.1 757.0 L923.1 758.6 L926.1 760.1 L929.1 761.6 L932.1 763.1 L935.1 764.5 L938.1 765.9 L941.1 767.3 L944.1 768.5 L947.1 769.6 L950.1 770.6 L953.1 771.4 L956.1 772.2 L959.1 772.8 L962.1 773.5 L965.1 774.1 L968.1 774.7 L971.1 775.4 L974.1 776.1 L977.1 776.9 L980.1 777.8 L983.1 778.9 L986.1 780.4 L989.1 782.0 L992.1 783.9 L995.1 785.8 L998.1 787.6 L1001.1 789.3 L1004.1 790.9 L1007.1 792.5 L1010.1 794.0 L1013.1 795.6 L1016.1 797.3 L1019.1 799.1 L1022.1 801.1 L1025.1 803.4 L1028.1 805.9 L1031.1 808.6 L1034.1 811.4 L1037.1 814.0 L1040.1 816.5 L1043.1 819.0 L1046.1 821.5 L1049.1 823.9 L1052.1 826.2 L1055.1 828.2 L1058.1 829.9 L1061.1 831.5 L1064.1 832.9 L1067.1 834.3 L1070.1 835.7 L1073.1 837.0 L1076.1 838.5 L1079.1 840.0 L1082.1 841.7 L1085.1 843.6 L1088.1 845.6 L1091.1 847.6 L1094.1 849.7 L1097.1 851.7 L1100.1 853.7 L1103.1 855.6 L1106.1 857.2 L1109.1 858.8 L1112.1 860.2 L1115.1 861.6 L1118.1 863.0 L1121.1 864.4 L1124.1 865.8 L1127.1 867.4 L1130.1 869.1 L1133.1 871.1 L1136.1 873.4 L1139.1 875.8 L1142.1 878.3 L1145.1 880.6 L1148.1 882.7 L1151.1 884.6 L1154.1 886.4 L1157.1 888.1 L1160.1 889.7 L1163.1 891.3 L1166.1 892.8 L1169.1 894.1 L1172.1 895.3 L1175.1 896.4 L1178.1 897.3 L1181.1 898.0 L1184.1 898.6 L1187.1 899.3 L1190.1 900.0 L1193.1 900.8 L1196.1 901.8 L1199.1 902.9 L1202.1 904.1 L1205.1 905.2 L1208.1 906.2 L1211.1 907.2 L1214.1 908.1 L1217.1 909.0 L1220.1 909.9 L1223.1 910.8 L1226.1 911.6 L1229.1 912.5 L1232.1 913.3 L1235.1 914.0 L1238.1 914.7 L1241.1 915.3 L1244.1 915.9 L1247.1 916.3 L1250.1 916.8 L1253.1 917.2 L1256.1 917.6 L1259.1 917.9 L1262.1 918.3 L1265.1 918.5 L1268.1 918.7 L1271.1 918.7 L1274.1 918.6 L1277.1 918.2 L1280.1 917.8 L1283.1 917.2 L1286.1 916.7 L1289.1 916.3 L1292.1 916.0 L1295.1 915.9 L1298.1 916.3 L1301.1 917.0 L1304.1 917.9 L1307.1 918.5 L1310.1 918.8 L1313.1 919.0 L1316.1 919.2 L1319.1 919.4 L1322.1 919.6 L1325.1 919.7 L1328.1 919.9 L1331.1 920.0 L1334.1 920.0 L1337.1 920.1 L1340.1 920.1 L1343.1 920.1 L1346.1 920.1 L1349.1 920.1 L1352.1 920.0 L1355.1 920.0 L1358.1 919.9 L1361.1 919.8 L1364.1 919.7 L1367.1 919.6 L1370.1 919.4 L1373.1 919.1 L1376.1 918.6 L1379.1 917.9 L1382.1 917.2 L1385.1 916.6 L1388.1 916.1 L1391.1 915.9 L1394.1 916.0 L1397.1 916.2 L1400.1 916.5 L1403.1 916.9 L1406.1 917.3 L1409.1 917.8 L1412.1 918.2 L1415.1 918.6 L1418.1 919.1 L1421.1 919.6 L1424.1 920.2 L1427.1 920.7 L1430.1 921.3 L1433.1 921.8 L1436.1 922.3 L1439.1 922.6 L1442.1 922.9 L1445.1 923.0 L1448.1 923.0 L1451.1 922.9 L1454.1 922.8 L1457.1 922.7 L1460.1 922.5 L1463.1 922.4 L1466.1 922.2 L1469.1 922.0 L1472.1 921.8 L1475.1 921.5 L1478.1 921.1 L1481.1 920.6 L1484.1 920.1 L1487.1 919.5 L1490.1 918.8 L1493.1 918.0 L1496.1 917.0 L1499.1 915.9 L1502.1 914.6 L1505.1 913.2 L1508.1 911.9 L1511.1 910.4 L1514.1 908.8 L1517.1 907.1 L1520.1 905.4 L1523.1 903.6 L1526.1 901.9 L1529.1 900.2 L1532.1 898.6 L1535.1 897.1 L1538.1 895.7 L1541.1 894.3 L1544.1 892.9 L1547.1 891.4 L1550.1 889.9 L1553.1 888.2 L1556.1 886.4 L1559.1 884.3 L1562.1 882.6 L1565.1 881.2 L1568.1 879.9 L1571.1 878.7 L1574.1 877.4 L1577.1 876.1 L1580.1 874.7 L1583.1 873.2 L1586.1 871.8 L1589.1 870.2 L1592.1 868.7 L1595.1 867.1 L1598.1 865.6 L1601.1 864.0 L1604.1 862.4 L1607.1 860.6 L1610.1 858.5 L1613.1 856.3 L1616.1 853.8 L1619.1 851.0 L1622.1 847.4 L1625.1 843.1 L1628.1 839.0 L1631.1 835.3 L1634.1 831.6 L1637.1 827.7 L1640.1 823.6 L1643.1 819.2 L1646.1 814.1 L1649.1 808.2 L1652.1 801.7 L1655.1 795.2 L1658.1 788.9 L1661.1 783.0 L1664.1 777.1 L1667.1 771.4 L1670.1 765.9 L1673.1 760.7 L1676.1 756.1 L1679.1 752.1 L1682.1 748.0 L1685.1 743.0 L1688.1 735.8 L1691.1 726.5 L1694.1 717.7 L1697.1 709.9 L1700.1 702.4 L1703.1 695.3 L1706.1 688.5 L1709.1 682.1 L1712.1 676.0 L1715.1 670.0 L1718.1 663.9 L1721.1 659.3 L1724.1 656.9 L1727.1 655.0 L1730.1 653.2 L1733.1 650.9 L1736.1 648.4 L1739.1 646.1 L1742.1 644.2 L1745.1 642.7 L1748.1 641.3 L1751.1 640.6 L1754.1 640.7 L1757.1 641.3 L1760.1 642.0 L1763.1 643.3 L1766.1 645.2 L1769.1 647.6 L1772.1 650.1 L1775.1 653.1 L1778.1 656.8 L1781.1 660.6 L1784.1 664.2 L1787.1 667.8 L1790.1 671.3 L1793.1 674.9 L1796.1 678.7 L1799.1 682.7 L1802.1 686.8 L1805.1 691.2 L1808.1 695.7 L1811.1 700.5 L1814.1 705.5 L1817.1 710.9 L1820.1 716.5 L1823.1 722.8 L1826.1 729.7 L1829.1 737.7 L1832.1 745.4 L1835.1 752.7 L1838.1 759.2 L1841.1 765.1 L1844.1 770.5 L1847.1 775.7 L1850.1 781.0 L1853.1 786.5 L1856.1 792.1 L1859.1 797.7 L1862.1 803.2 L1865.1 808.5 L1868.1 813.7 L1871.1 818.6 L1874.1 823.5 L1877.1 828.5 L1880.1 833.6 L1883.1 839.1 L1886.1 844.8 L1889.1 850.5 L1892.1 855.9 L1895.1 860.8 L1898.1 865.3 L1901.1 869.4 L1904.1 873.4 L1907.1 877.3 L1910.1 881.3 L1913.1 885.6 L1916.1 890.3 L1919.1 896.0 L1922.1 902.9 L1925.1 908.9 L1928.1 912.3 L1931.1 914.4 L1934.1 916.0 L1937.1 917.7 L1940.1 919.7 L1943.1 922.8 L1946.1 926.8 L1949.1 930.8 L1952.1 934.1 L1955.1 936.2 L1958.1 938.0 L1961.1 939.6 L1964.1 941.0 L1967.1 942.5 L1970.1 944.2 L1973.1 946.2 L1976.1 948.4 L1979.1 950.8 L1982.1 953.2 L1985.1 955.3 L1988.1 957.3 L1991.1 959.2 L1994.1 961.0 L1997.1 962.7 L2000.1 964.0 L2003.1 965.2 L2006.1 966.2 L2009.1 967.1 L2012.1 968.0 L2015.1 969.0 L2018.1 969.9 L2021.1 970.9 L2024.1 971.7 L2027.1 972.4 L2030.1 972.9 L2033.1 973.3 L2036.1 973.6 L2039.1 973.9 L2042.1 974.3 L2045.1 974.6 L2048.1 974.9 L2051.1 975.3"/>
<path stroke="#900000" d="M308.1 138.5 L311.1 141.7 L314.1 145.0 L317.1 148.3 L320.1 151.6 L323.1 154.7 L326.1 157.9 L329.1 161.2 L332.1 164.5 L335.1 168.1 L338.1 171.7 L341.1 175.5 L344.1 179.5 L347.1 183.6 L350.1 188.1 L353.1 193.8 L356.1 199.3 L359.1 202.6 L362.1 204.5 L365.1 205.9 L368.1 207.4 L371.1 209.3 L374.1 211.7 L377.1 214.6 L380.1 217.8 L383.1 221.7 L386.1 226.3 L389.1 230.8 L392.1 234.6 L395.1 237.4 L398.1 239.9 L401.1 242.2 L404.1 244.4 L407.1 246.5 L410.1 248.6 L413.1 250.6 L416.1 252.6 L419.1 254.5 L422.1 256.5 L425.1 258.6 L428.1 260.8 L431.1 263.1 L434.1 265.2 L437.1 267.4 L440.1 269.3 L443.1 271.1 L446.1 272.7 L449.1 274.3 L452.1 276.1 L455.1 278.4 L458.1 281.4 L461.1 284.2 L464.1 285.9 L467.1 287.0 L470.1 287.8 L473.1 288.5 L476.1 289.1 L479.1 289.8 L482.1 290.6 L485.1 291.6 L488.1 293.0 L491.1 294.6 L494.1 296.3 L497.1 297.9 L500.1 299.3 L503.1 300.4 L506.1 301.3 L509.1 302.1 L512.1 302.9 L515.1 303.7 L518.1 304.6 L521.1 305.6 L524.1 306.8 L527.1 308.4 L530.1 310.3 L533.1 312.3 L536.1 314.3 L539.1 316.2 L542.1 318.0 L545.1 319.4 L548.1 320.6 L551.1 321.6 L554.1 322.6 L557.1 323.5 L560.1 324.3 L563.1 325.2 L566.1 326.0 L569.1 326.9 L572.1 327.9 L575.1 328.7 L578.1 329.3 L581.1 329.6 L584.1 329.2 L587.1 328.2 L590.1 327.1 L593.1 326.0 L596.1 325.4 L599.1 325.0 L602.1 324.6 L605.1 324.4 L608.1 324.4 L611.1 324.5 L614.1 324.9 L617.1 325.3 L620.1 325.8 L623.1 326.6 L626.1 328.4 L629.1 330.8 L632.1 333.3 L635.1 335.6 L638.1 337.0 L641.1 337.4 L644.1 337.3 L647.1 337.0 L650.1 336.7 L653.1 336.4 L656.1 335.9 L659.1 335.5 L662.1 334.8 L665.1 333.8 L668.1 332.6 L671.1 331.2 L674.1 329.8 L677.1 327.9 L680.1 325.8 L683.1 323.9 L686.1 322.9 L689.1 322.2 L692.1 321.5 L695.1 321.1 L698.1 320.9 L701.1 320.9 L704.1 321.2 L707.1 321.7 L710.1 322.3 L713.1 323.1 L716.1 324.3 L719.1 326.4 L722.1 329.1 L725.1 332.3 L728.1 335.8 L731.1 339.5 L734.1 343.5 L737.1 348.8 L740.1 354.5 L743.1 359.6 L746.1 363.4 L749.1 366.5 L752.1 369.4 L755.1 372.9 L758.1 377.8 L761.1 384.3 L764.1 391.6 L767.1 398.7 L770.1 405.2 L773.1 411.7 L776.1 418.1 L779.1 424.3 L782.1 430.5 L785.1 436.8 L788.1 443.0 L791.1 448.9 L794.1 454.5 L797.1 459.4 L800.1 463.6 L803.1 466.9 L806.1 469.8 L809.1 472.4 L812.1 475.1 L815.1 478.2 L818.1 482.1 L821.1 486.7 L824.1 491.8 L827.1 497.0 L830.1 501.8 L833.1 506.0 L836.1 509.5 L839.1 512.7 L842.1 515.7 L845.1 518.8 L848.1 521.9 L851.1 525.4 L854.1 529.0 L857.1 532.6 L860.1 536.4 L863.1 540.1 L866.1 543.7 L869.1 547.2 L872.1 550.7 L875.1 554.2 L878.1 557.6 L881.1 560.9 L884.1 564.1 L887.1 567.4 L890.1 570.6 L893.1 573.8 L896.1 576.9 L899.1 579.8 L902.1 582.6 L905.1 585.1 L908.1 587.4 L911.1 589.6 L914.1 591.6 L917.1 593.5 L920.1 595.3 L923.1 597.0 L926.1 598.8 L929.1 600.5 L932.1 602.2 L935.1 604.0 L938.1 605.7 L941.1 607.4 L944.1 609.1 L947.1 610.8 L950.1 612.5 L953.1 614.3 L956.1 616.1 L959.1 617.9 L962.1 619.6 L965.1 621.4 L968.1 623.2 L971.1 625.1 L974.1 627.0 L977.1 629.0 L980.1 631.0 L983.1 633.1 L986.1 635.3 L989.1 637.7 L992.1 640.2 L995.1 642.9 L998.1 645.7 L1001.1 648.5 L1004.1 651.3 L1007.1 654.2 L1010.1 656.9 L1013.1 659.7 L1016.1 662.4 L1019.1 665.2 L1022.1 668.0 L1025.1 670.8 L1028.1 673.6 L1031.1 676.4 L1034.1 679.1 L1037.1 681.7 L1040.1 684.3 L1043.1 686.9 L1046.1 689.4 L1049.1 691.9 L1052.1 694.3 L1055.1 696.7 L1058.1 699.1 L1061.1 701.5 L1064.1 703.9 L1067.1 706.2 L1070.1 708.4 L1073.1 710.6 L1076.1 712.8 L1079.1 715.0 L1082.1 717.1 L1085.1 719.4 L1088.1 721.7 L1091.1 724.0 L1094.1 726.5 L1097.1 729.1 L1100.1 731.8 L1103.1 734.6 L1106.1 737.4 L1109.1 740.2 L1112.1 743.1 L1115.1 745.9 L1118.1 748.7 L1121.1 751.4 L1124.1 754.1 L1127.1 756.8 L1130.1 759.5 L1133.1 762.1 L1136.1 764.7 L1139.1 767.2 L1142.1 769.6 L1145.1 771.8 L1148.1 774.1 L1151.1 776.3 L1154.1 778.5 L1157.1 780.7 L1160.1 783.2 L1163.1 785.7 L1166.1 788.0 L1169.1 790.2 L1172.1 791.8 L1175.1 793.2 L1178.1 794.4 L1181.1 795.6 L1184.1 797.0 L1187.1 798.5 L1190.1 800.1 L1193.1 801.7 L1196.1 803.3 L1199.1 804.8 L1202.1 806.1 L1205.1 807.4 L1208.1 808.6 L1211.1 809.7 L1214.1 810.9 L1217.1 812.1 L1220.1 813.3 L1223.1 814.6 L1226.1 816.0 L1229.1 817.4 L1232.1 818.7 L1235.1 819.9 L1238.1 820.9 L1241.1 821.9 L1244.1 822.8 L1247.1 823.8 L1250.1 824.9 L1253.1 826.4 L1256.1 828.2 L1259.1 830.0 L1262.1 831.5 L1265.1 832.5 L1268.1 832.9 L1271.1 833.2 L1274.1 833.4 L1277.1 833.7 L1280.1 834.3 L1283.1 835.1 L1286.1 836.0 L1289.1 836.7 L1292.1 837.2 L1295.1 837.6 L1298.1 838.0 L1301.1 838.5 L1304.1 839.4 L1307.1 840.6 L1310.1 841.9 L1313.1 843.0 L1316.1 844.0 L1319.1 844.9 L1322.1 845.8 L1325.1 846.6 L1328.1 847.5 L1331.1 848.4 L1334.1 849.3 L1337.1 850.2 L1340.1 851.2 L1343.1 852.1 L1346.1 853.0 L1349.1 853.8 L1352.1 854.6 L1355.1 855.3 L1358.1 855.9 L1361.1 856.5 L1364.1 857.0 L1367.1 857.5 L1370.1 858.0 L1373.1 858.5 L1376.1 858.9 L1379.1 859.4 L1382.1 860.0 L1385.1 860.5 L1388.1 861.1 L1391.1 861.7 L1394.1 862.3 L1397.1 862.9 L1400.1 863.5 L1403.1 864.1 L1406.1 864.8 L1409.1 865.5 L1412.1 866.2 L1415.1 866.9 L1418.1 867.7 L1421.1 868.6 L1424.1 869.5 L1427.1 870.4 L1430.1 871.3 L1433.1 872.1 L1436.1 872.9 L1439.1 873.5 L1442.1 874.1 L1445.1 874.7 L1448.1 875.3 L1451.1 875.8 L1454.1 876.4 L1457.1 877.0 L1460.1 877.7 L1463.1 878.6 L1466.1 879.7 L1469.1 880.8 L1472.1 881.5 L1475.1 881.5 L1478.1 880.7 L1481.1 879.6 L1484.1 879.3 L1487.1 879.6 L1490.1 880.3 L1493.1 880.8 L1496.1 880.9 L1499.1 880.7 L1502.1 880.3 L1505.1 879.7 L1508.1 879.0 L1511.1 878.0 L1514.1 876.6 L1517.1 875.1 L1520.1 873.8 L1523.1 872.8 L1526.1 871.8 L1529.1 870.9 L1532.1 870.1 L1535.1 869.3 L1538.1 868.5 L1541.1 867.8 L1544.1 867.1 L1547.1 866.4 L1550.1 865.8 L1553.1 865.1 L1556.1 864.5 L1559.1 863.9 L1562.1 863.2 L1565.1 862.4 L1568.1 861.7 L1571.1 860.9 L1574.1 860.2 L1577.1 859.6 L1580.1 859.1 L1583.1 858.7 L1586.1 858.3 L1589.1 857.9 L1592.1 857.5 L1595.1 857.0 L1598.1 856.3 L1601.1 855.6 L1604.1 854.7 L1607.1 853.7 L1610.1 852.4 L1613.1 850.8 L1616.1 848.9 L1619.1 846.9 L1622.1 844.4 L1625.1 841.6 L1628.1 838.7 L1631.1 835.7 L1634.1 832.6 L1637.1 829.1 L1640.1 825.1 L1643.1 820.7 L1646.1 815.8 L1649.1 810.1 L1652.1 803.8 L1655.1 797.2 L1658.1 790.8 L1661.1 784.9 L1664.1 779.3 L1667.1 773.8 L1670.1 768.3 L1673.1 762.6 L1676.1 756.8 L1679.1 750.9 L1682.1 744.6 L1685.1 737.3 L1688.1 728.8 L1691.1 720.1 L1694.1 711.9 L1697.1 703.8 L1700.1 695.5 L1703.1 686.9 L1706.1 678.1 L1709.1 669.4 L1712.1 660.8 L1715.1 652.2 L1718.1 643.8 L1721.1 635.3 L1724.1 627.3 L1727.1 620.3 L1730.1 614.0 L1733.1 608.3 L1736.1 603.0 L1739.1 598.3 L1742.1 594.5 L1745.1 591.1 L1748.1 589.0 L1751.1 588.0 L1754.1 587.3 L1757.1 586.7 L1760.1 586.2 L1763.1 585.7 L1766.1 585.3 L1769.1 585.6 L1772.1 586.7 L1775.1 588.3 L1778.1 590.4 L1781.1 593.3 L1784.1 596.2 L1787.1 598.7 L1790.1 601.9 L1793.1 606.6 L1796.1 611.5 L1799.1 616.1 L1802.1 620.7 L1805.1 625.5 L1808.1 630.5 L1811.1 635.5 L1814.1 640.4 L1817.1 645.3 L1820.1 651.0 L1823.1 657.6 L1826.1 664.6 L1829.1 671.5 L1832.1 678.0 L1835.1 684.5 L1838.1 691.2 L1841.1 698.6 L1844.1 707.1 L1847.1 715.2 L1850.1 721.8 L1853.1 727.4 L1856.1 732.4 L1859.1 737.4 L1862.1 742.7 L1865.1 748.3 L1868.1 753.9 L1871.1 759.7 L1874.1 765.7 L1877.1 772.0 L1880.1 778.7 L1883.1 785.8 L1886.1 793.0 L1889.1 800.1 L1892.1 807.0 L1895.1 813.8 L1898.1 820.5 L1901.1 827.0 L1904.1 833.1 L1907.1 838.7 L1910.1 843.8 L1913.1 848.7 L1916.1 853.5 L1919.1 858.4 L1922.1 863.6 L1925.1 868.9 L1928.1 874.3 L1931.1 879.6 L1934.1 884.9 L1937.1 889.9 L1940.1 894.8 L1943.1 899.8 L1946.1 904.7 L1949.1 909.1 L1952.1 912.7 L1955.1 915.6 L1958.1 917.9 L1961.1 920.0 L1964.1 922.0 L1967.1 924.0 L1970.1 926.2 L1973.1 928.9 L1976.1 931.9 L1979.1 935.1 L1982.1 938.2 L1985.1 941.1 L1988.1 943.6 L1991.1 946.0 L1994.1 948.3 L1997.1 950.4 L2000.1 952.3 L2003.1 954.0 L2006.1 955.5 L2009.1 957.0 L2012.1 958.3 L2015.1 959.7 L2018.1 961.3 L2021.1 962.8 L2024.1 964.1 L2027.1 964.9 L2030.1 965.2 L2033.1 965.3 L2036.1 965.4 L2039.1 966.3 L2042.1 969.8 L2045.1 973.2 L2048.1 976.2 L2051.1 979.2"/>
</g>
<g>
<text transform="translate(261.20 1267.50) scale(0.9855 1)" font-size="79.10" text-anchor="end">0.0</text>
<text transform="translate(261.20 1028.00) scale(0.9855 1)" font-size="79.10" text-anchor="end">0.1</text>
<text transform="translate(261.20 788.50) scale(0.9855 1)" font-size="79.10" text-anchor="end">0.2</text>
<text transform="translate(261.20 549.00) scale(0.9855 1)" font-size="79.10" text-anchor="end">0.3</text>
<text transform="translate(261.20 309.50) scale(0.9855 1)" font-size="79.10" text-anchor="end">0.4</text>
<text transform="translate(261.20 70.00) scale(0.9855 1)" font-size="79.10" text-anchor="end">0.5</text>
</g>
<g>
<text transform="translate(316.20 1354.10) scale(1.0050 1)" font-size="79.30" text-anchor="middle">350</text>
<text transform="translate(508.03 1354.10) scale(1.0050 1)" font-size="79.30" text-anchor="middle">400</text>
<text transform="translate(699.87 1354.10) scale(1.0050 1)" font-size="79.30" text-anchor="middle">450</text>
<text transform="translate(891.70 1354.10) scale(1.0050 1)" font-size="79.30" text-anchor="middle">500</text>
<text transform="translate(1083.53 1354.10) scale(1.0050 1)" font-size="79.30" text-anchor="middle">550</text>
<text transform="translate(1275.37 1354.10) scale(1.0050 1)" font-size="79.30" text-anchor="middle">600</text>
<text transform="translate(1467.20 1354.10) scale(1.0050 1)" font-size="79.30" text-anchor="middle">650</text>
<text transform="translate(1659.03 1354.10) scale(1.0050 1)" font-size="79.30" text-anchor="middle">700</text>
<text transform="translate(1850.87 1354.10) scale(1.0050 1)" font-size="79.30" text-anchor="middle">750</text>
<text transform="translate(2042.70 1354.10) scale(1.0050 1)" font-size="79.30" text-anchor="middle">800</text>
</g>
<text transform="translate(842.75 1477.00) scale(1.0221 1)" font-size="98.00" text-anchor="start">Wavelenghth (nm)</text>
<text transform="translate(86.1 860.5) rotate(-90) scale(0.950 1)" font-size="102.6">Absorbance</text>
<rect x="997.3" y="45.7" width="1043.3" height="386.8" fill="#fff" stroke="#000" stroke-width="3" shape-rendering="crispEdges"/>
<text transform="translate(1030.60 136.80) scale(1.0250 1)" font-size="76.80" text-anchor="start">Depth (m)</text>
<g>
<rect x="1027.0" y="198.0" width="185" height="10" rx="3.5" fill="#000000"/>
<rect x="1356.5" y="198.0" width="185" height="10" rx="3.5" fill="#FF8000"/>
<rect x="1686.5" y="198.0" width="185" height="10" rx="3.5" fill="#0000FF"/>
<rect x="1027.0" y="288.6" width="185" height="10" rx="3.5" fill="#008080"/>
<rect x="1356.5" y="288.6" width="185" height="10" rx="3.5" fill="#0000A0"/>
<rect x="1686.5" y="288.6" width="185" height="10" rx="3.5" fill="#808000"/>
<rect x="1027.0" y="379.2" width="185" height="10" rx="3.5" fill="#FF0000"/>
<rect x="1356.5" y="379.2" width="185" height="10" rx="3.5" fill="#008000"/>
<rect x="1686.5" y="379.2" width="185" height="10" rx="3.5" fill="#900000"/>
</g>
<g>
<text transform="translate(1224.60 228.00) scale(1.0100 1)" font-size="79.30" text-anchor="start">5</text>
<text transform="translate(1554.10 228.00) scale(1.0100 1)" font-size="79.30" text-anchor="start">5.1</text>
<text transform="translate(1884.10 228.00) scale(1.0100 1)" font-size="79.30" text-anchor="start">5.2</text>
<text transform="translate(1224.60 318.60) scale(1.0100 1)" font-size="79.30" text-anchor="start">5.3</text>
<text transform="translate(1554.10 318.60) scale(1.0100 1)" font-size="79.30" text-anchor="start">5.4</text>
<text transform="translate(1884.10 318.60) scale(1.0100 1)" font-size="79.30" text-anchor="start">5.5</text>
<text transform="translate(1224.60 409.20) scale(1.0100 1)" font-size="79.30" text-anchor="start">5.6</text>
<text transform="translate(1554.10 409.20) scale(1.0100 1)" font-size="79.30" text-anchor="start">5.7</text>
<text transform="translate(1884.10 409.20) scale(1.0100 1)" font-size="79.30" text-anchor="start">5.9</text>
</g>
</svg></body></html>
